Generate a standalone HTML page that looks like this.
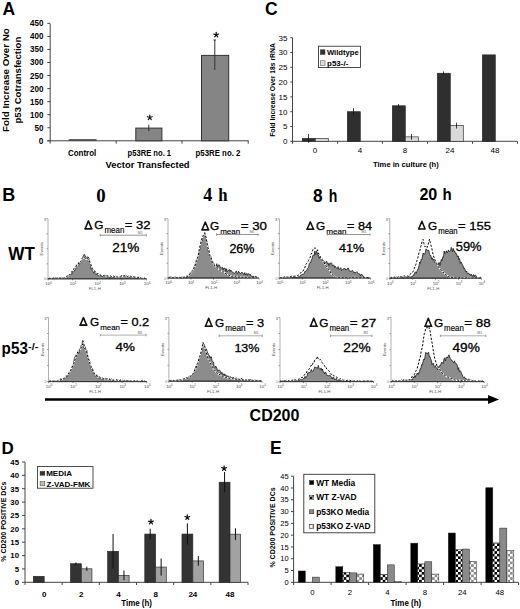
<!DOCTYPE html>
<html><head><meta charset="utf-8"><style>
html,body{margin:0;padding:0;background:#fff;overflow:hidden;width:520px;height:609px;}
svg{display:block;}
text{font-family:"Liberation Sans",sans-serif;}
</style></head><body>
<svg width="520" height="609" viewBox="0 0 520 609">
<rect width="520" height="609" fill="#fff"/>
<text x="2.5" y="14.5" font-size="17.5" font-weight="bold" text-anchor="start" fill="#000" >A</text>
<text x="265" y="15" font-size="17.5" font-weight="bold" text-anchor="start" fill="#000" >C</text>
<text x="2.3" y="200.8" font-size="18" font-weight="bold" text-anchor="start" fill="#000" >B</text>
<text x="1.5" y="453.8" font-size="17" font-weight="bold" text-anchor="start" fill="#000" >D</text>
<text x="270" y="454.1" font-size="17.5" font-weight="bold" text-anchor="start" fill="#000" >E</text>
<line x1="50.2" y1="23.8" x2="50.2" y2="143.6" stroke="#444" stroke-width="1" />
<line x1="47.3" y1="140.8" x2="248.7" y2="140.8" stroke="#444" stroke-width="1" />
<line x1="47.3" y1="140.8" x2="50.2" y2="140.8" stroke="#444" stroke-width="1" />
<text x="43.4" y="143.75" font-size="8.5" font-weight="bold" textLength="4.6" lengthAdjust="spacingAndGlyphs" text-anchor="end" fill="#000">0</text>
<line x1="47.3" y1="127.75000000000001" x2="50.2" y2="127.75000000000001" stroke="#444" stroke-width="1" />
<text x="43.4" y="130.70000000000002" font-size="8.5" font-weight="bold" textLength="9" lengthAdjust="spacingAndGlyphs" text-anchor="end" fill="#000">50</text>
<line x1="47.3" y1="114.70000000000002" x2="50.2" y2="114.70000000000002" stroke="#444" stroke-width="1" />
<text x="43.4" y="117.65000000000002" font-size="8.5" font-weight="bold" textLength="13.4" lengthAdjust="spacingAndGlyphs" text-anchor="end" fill="#000">100</text>
<line x1="47.3" y1="101.65" x2="50.2" y2="101.65" stroke="#444" stroke-width="1" />
<text x="43.4" y="104.60000000000001" font-size="8.5" font-weight="bold" textLength="13.4" lengthAdjust="spacingAndGlyphs" text-anchor="end" fill="#000">150</text>
<line x1="47.3" y1="88.60000000000001" x2="50.2" y2="88.60000000000001" stroke="#444" stroke-width="1" />
<text x="43.4" y="91.55000000000001" font-size="8.5" font-weight="bold" textLength="13.4" lengthAdjust="spacingAndGlyphs" text-anchor="end" fill="#000">200</text>
<line x1="47.3" y1="75.55000000000001" x2="50.2" y2="75.55000000000001" stroke="#444" stroke-width="1" />
<text x="43.4" y="78.50000000000001" font-size="8.5" font-weight="bold" textLength="13.4" lengthAdjust="spacingAndGlyphs" text-anchor="end" fill="#000">250</text>
<line x1="47.3" y1="62.500000000000014" x2="50.2" y2="62.500000000000014" stroke="#444" stroke-width="1" />
<text x="43.4" y="65.45000000000002" font-size="8.5" font-weight="bold" textLength="13.4" lengthAdjust="spacingAndGlyphs" text-anchor="end" fill="#000">300</text>
<line x1="47.3" y1="49.45" x2="50.2" y2="49.45" stroke="#444" stroke-width="1" />
<text x="43.4" y="52.400000000000006" font-size="8.5" font-weight="bold" textLength="13.4" lengthAdjust="spacingAndGlyphs" text-anchor="end" fill="#000">350</text>
<line x1="47.3" y1="36.400000000000006" x2="50.2" y2="36.400000000000006" stroke="#444" stroke-width="1" />
<text x="43.4" y="39.35000000000001" font-size="8.5" font-weight="bold" textLength="13.4" lengthAdjust="spacingAndGlyphs" text-anchor="end" fill="#000">400</text>
<line x1="47.3" y1="23.35000000000001" x2="50.2" y2="23.35000000000001" stroke="#444" stroke-width="1" />
<text x="43.4" y="26.300000000000008" font-size="8.5" font-weight="bold" textLength="13.4" lengthAdjust="spacingAndGlyphs" text-anchor="end" fill="#000">450</text>
<line x1="116.2" y1="140.8" x2="116.2" y2="143.7" stroke="#444" stroke-width="1" />
<line x1="182" y1="140.8" x2="182" y2="143.7" stroke="#444" stroke-width="1" />
<line x1="248.2" y1="140.8" x2="248.2" y2="143.7" stroke="#444" stroke-width="1" />
<line x1="68.7" y1="139.9" x2="96.5" y2="139.9" stroke="#222" stroke-width="1.2" />
<rect x="135.8" y="128.1" width="26.1" height="12.700000000000017" fill="#858585" stroke="#333" stroke-width="1"/>
<rect x="201.5" y="55.4" width="27.2" height="85.4" fill="#858585" stroke="#333" stroke-width="1"/>
<line x1="148.8" y1="124.6" x2="148.8" y2="131.2" stroke="#333" stroke-width="1" />
<line x1="214.8" y1="40" x2="214.8" y2="70" stroke="#333" stroke-width="1" />
<line x1="213.5" y1="40" x2="216" y2="40" stroke="#333" stroke-width="1" />
<path d="M149.80,117.50 L149.80,115.00 M149.80,117.50 L152.18,116.73 M149.80,117.50 L151.27,119.52 M149.80,117.50 L148.33,119.52 M149.80,117.50 L147.42,116.73 " stroke="#111" stroke-width="1.25" stroke-linecap="round" fill="none"/>
<path d="M216.20,34.80 L216.20,32.30 M216.20,34.80 L218.58,34.03 M216.20,34.80 L217.67,36.82 M216.20,34.80 L214.73,36.82 M216.20,34.80 L213.82,34.03 " stroke="#111" stroke-width="1.25" stroke-linecap="round" fill="none"/>
<text x="68.0" y="156.3" font-size="8.4" font-weight="bold" textLength="28.3" lengthAdjust="spacingAndGlyphs" text-anchor="start" fill="#000">Control</text>
<text x="127.6" y="156.0" font-size="8.2" font-weight="bold" textLength="43.5" lengthAdjust="spacingAndGlyphs" text-anchor="start" fill="#000">p53RE no. 1</text>
<text x="195.6" y="156.0" font-size="8.2" font-weight="bold" textLength="44.8" lengthAdjust="spacingAndGlyphs" text-anchor="start" fill="#000">p53RE no. 2</text>
<text x="105.6" y="168.1" font-size="8.8" font-weight="bold" textLength="84.0" lengthAdjust="spacingAndGlyphs" text-anchor="start" fill="#000">Vector Transfected</text>
<text transform="translate(9.3,80.1) rotate(-90)" font-size="9.8" font-weight="bold" textLength="103.6" lengthAdjust="spacingAndGlyphs" text-anchor="middle" fill="#000">Fold Increase Over No</text>
<text transform="translate(20.8,80.1) rotate(-90)" font-size="9.7" font-weight="bold" textLength="86.8" lengthAdjust="spacingAndGlyphs" text-anchor="middle" fill="#000">p53 Cotransfection</text>
<line x1="292.5" y1="37.7" x2="292.5" y2="143.8" stroke="#444" stroke-width="1" />
<line x1="292.5" y1="141.3" x2="517" y2="141.3" stroke="#444" stroke-width="1" />
<line x1="290.3" y1="141.3" x2="292.5" y2="141.3" stroke="#444" stroke-width="1" />
<text x="287.5" y="144.20000000000002" font-size="8" text-anchor="end" fill="#000" >0</text>
<line x1="290.3" y1="126.50000000000001" x2="292.5" y2="126.50000000000001" stroke="#444" stroke-width="1" />
<text x="287.5" y="129.4" font-size="8" text-anchor="end" fill="#000" >5</text>
<line x1="290.3" y1="111.7" x2="292.5" y2="111.7" stroke="#444" stroke-width="1" />
<text x="287.5" y="114.60000000000001" font-size="8" text-anchor="end" fill="#000" >10</text>
<line x1="290.3" y1="96.9" x2="292.5" y2="96.9" stroke="#444" stroke-width="1" />
<text x="287.5" y="99.80000000000001" font-size="8" text-anchor="end" fill="#000" >15</text>
<line x1="290.3" y1="82.1" x2="292.5" y2="82.1" stroke="#444" stroke-width="1" />
<text x="287.5" y="85.0" font-size="8" text-anchor="end" fill="#000" >20</text>
<line x1="290.3" y1="67.3" x2="292.5" y2="67.3" stroke="#444" stroke-width="1" />
<text x="287.5" y="70.2" font-size="8" text-anchor="end" fill="#000" >25</text>
<line x1="290.3" y1="52.5" x2="292.5" y2="52.5" stroke="#444" stroke-width="1" />
<text x="287.5" y="55.4" font-size="8" text-anchor="end" fill="#000" >30</text>
<line x1="290.3" y1="37.7" x2="292.5" y2="37.7" stroke="#444" stroke-width="1" />
<text x="287.5" y="40.6" font-size="8" text-anchor="end" fill="#000" >35</text>
<line x1="337.5" y1="141.3" x2="337.5" y2="143.8" stroke="#444" stroke-width="1" />
<line x1="382.5" y1="141.3" x2="382.5" y2="143.8" stroke="#444" stroke-width="1" />
<line x1="427.5" y1="141.3" x2="427.5" y2="143.8" stroke="#444" stroke-width="1" />
<line x1="472.5" y1="141.3" x2="472.5" y2="143.8" stroke="#444" stroke-width="1" />
<line x1="517.5" y1="141.3" x2="517.5" y2="143.8" stroke="#444" stroke-width="1" />
<rect x="302.3" y="138.34" width="13" height="2.9600000000000004" fill="#2f2f2f" stroke="#222" stroke-width="0.6"/>
<line x1="308.5" y1="133.9" x2="308.5" y2="142.78" stroke="#111" stroke-width="0.8" />
<rect x="315.3" y="138.34" width="13" height="2.9600000000000004" fill="#d8d8d8" stroke="#333" stroke-width="0.7"/>
<text x="315.0" y="152.8" font-size="8" text-anchor="middle" fill="#000" >0</text>
<rect x="347.3" y="111.7" width="13" height="29.600000000000005" fill="#2f2f2f" stroke="#222" stroke-width="0.6"/>
<line x1="353.5" y1="108.14800000000001" x2="353.5" y2="115.25200000000001" stroke="#111" stroke-width="0.8" />
<text x="360.0" y="152.8" font-size="8" text-anchor="middle" fill="#000" >4</text>
<rect x="392.3" y="105.78" width="13" height="35.52" fill="#2f2f2f" stroke="#222" stroke-width="0.6"/>
<line x1="398.5" y1="104.004" x2="398.5" y2="107.55600000000001" stroke="#111" stroke-width="0.8" />
<rect x="405.3" y="136.86" width="13" height="4.44" fill="#d8d8d8" stroke="#333" stroke-width="0.7"/>
<line x1="411.5" y1="133.9" x2="411.5" y2="139.82000000000002" stroke="#111" stroke-width="0.8" />
<text x="405.0" y="152.8" font-size="8" text-anchor="middle" fill="#000" >8</text>
<rect x="437.3" y="73.22" width="13" height="68.08000000000001" fill="#2f2f2f" stroke="#222" stroke-width="0.6"/>
<line x1="443.5" y1="71.444" x2="443.5" y2="74.99600000000001" stroke="#111" stroke-width="0.8" />
<rect x="450.3" y="125.61200000000001" width="13" height="15.688000000000002" fill="#d8d8d8" stroke="#333" stroke-width="0.7"/>
<line x1="456.5" y1="122.65200000000002" x2="456.5" y2="128.572" stroke="#111" stroke-width="0.8" />
<text x="450.0" y="152.8" font-size="8" text-anchor="middle" fill="#000" >24</text>
<rect x="482.3" y="54.867999999999995" width="13" height="86.43200000000002" fill="#2f2f2f" stroke="#222" stroke-width="0.6"/>
<text x="495.0" y="152.8" font-size="8" text-anchor="middle" fill="#000" >48</text>
<text x="373.0" y="166.9" font-size="7.6" font-weight="bold" textLength="65.8" lengthAdjust="spacingAndGlyphs" text-anchor="start" fill="#000">Time in culture (h)</text>
<text transform="translate(274.8,90) rotate(-90)" font-size="6.8" font-weight="bold" text-anchor="middle" fill="#000" >Fold Increase Over 18s rRNA</text>
<rect x="318.5" y="46.2" width="42" height="21.3" fill="#fff" stroke="#222" stroke-width="0.8"/>
<rect x="320.4" y="49.8" width="4.6" height="4.6" fill="#333" stroke="#222" stroke-width="0.5"/>
<rect x="320.4" y="60.8" width="4.6" height="4.6" fill="#ddd" stroke="#444" stroke-width="0.5"/>
<text x="326.9" y="54.5" font-size="8" font-weight="bold" textLength="31.8" lengthAdjust="spacingAndGlyphs" text-anchor="start" fill="#000">Wildtype</text>
<text x="327.1" y="65.5" font-size="8" font-weight="bold" textLength="21.2" lengthAdjust="spacingAndGlyphs" text-anchor="start" fill="#000">p53-/-</text>
<line x1="25" y1="462" x2="25" y2="585" stroke="#444" stroke-width="1" />
<line x1="25" y1="582.3" x2="248" y2="582.3" stroke="#444" stroke-width="1" />
<line x1="22" y1="582.3" x2="25" y2="582.3" stroke="#444" stroke-width="1" />
<text x="19" y="585.0999999999999" font-size="7.8" font-weight="bold" text-anchor="end" fill="#000" >0</text>
<line x1="22" y1="568.9333333333333" x2="25" y2="568.9333333333333" stroke="#444" stroke-width="1" />
<text x="19" y="571.7333333333332" font-size="7.8" font-weight="bold" text-anchor="end" fill="#000" >5</text>
<line x1="22" y1="555.5666666666666" x2="25" y2="555.5666666666666" stroke="#444" stroke-width="1" />
<text x="19" y="558.3666666666666" font-size="7.8" font-weight="bold" text-anchor="end" fill="#000" >10</text>
<line x1="22" y1="542.1999999999999" x2="25" y2="542.1999999999999" stroke="#444" stroke-width="1" />
<text x="19" y="544.9999999999999" font-size="7.8" font-weight="bold" text-anchor="end" fill="#000" >15</text>
<line x1="22" y1="528.8333333333333" x2="25" y2="528.8333333333333" stroke="#444" stroke-width="1" />
<text x="19" y="531.6333333333332" font-size="7.8" font-weight="bold" text-anchor="end" fill="#000" >20</text>
<line x1="22" y1="515.4666666666667" x2="25" y2="515.4666666666667" stroke="#444" stroke-width="1" />
<text x="19" y="518.2666666666667" font-size="7.8" font-weight="bold" text-anchor="end" fill="#000" >25</text>
<line x1="22" y1="502.09999999999997" x2="25" y2="502.09999999999997" stroke="#444" stroke-width="1" />
<text x="19" y="504.9" font-size="7.8" font-weight="bold" text-anchor="end" fill="#000" >30</text>
<line x1="22" y1="488.73333333333335" x2="25" y2="488.73333333333335" stroke="#444" stroke-width="1" />
<text x="19" y="491.53333333333336" font-size="7.8" font-weight="bold" text-anchor="end" fill="#000" >35</text>
<line x1="22" y1="475.3666666666667" x2="25" y2="475.3666666666667" stroke="#444" stroke-width="1" />
<text x="19" y="478.1666666666667" font-size="7.8" font-weight="bold" text-anchor="end" fill="#000" >40</text>
<line x1="22" y1="462.0" x2="25" y2="462.0" stroke="#444" stroke-width="1" />
<text x="19" y="464.8" font-size="7.8" font-weight="bold" text-anchor="end" fill="#000" >45</text>
<line x1="62.166666666666664" y1="582.3" x2="62.166666666666664" y2="585" stroke="#444" stroke-width="1" />
<line x1="99.33333333333333" y1="582.3" x2="99.33333333333333" y2="585" stroke="#444" stroke-width="1" />
<line x1="136.5" y1="582.3" x2="136.5" y2="585" stroke="#444" stroke-width="1" />
<line x1="173.66666666666666" y1="582.3" x2="173.66666666666666" y2="585" stroke="#444" stroke-width="1" />
<line x1="210.83333333333331" y1="582.3" x2="210.83333333333331" y2="585" stroke="#444" stroke-width="1" />
<line x1="248.0" y1="582.3" x2="248.0" y2="585" stroke="#444" stroke-width="1" />
<rect x="33.28333333333333" y="576.285" width="10.9" height="6.014999999999998" fill="#333" stroke="#222" stroke-width="0.6"/>
<text x="44.18333333333333" y="597" font-size="8" font-weight="bold" text-anchor="middle" fill="#000" >0</text>
<rect x="70.44999999999999" y="563.7203333333333" width="10.9" height="18.57966666666666" fill="#333" stroke="#222" stroke-width="0.6"/>
<line x1="75.89999999999999" y1="562.3836666666666" x2="75.89999999999999" y2="565.057" stroke="#111" stroke-width="1.0" />
<rect x="81.35" y="568.7996666666667" width="10.6" height="13.500333333333328" fill="#a2a2a2" stroke="#333" stroke-width="0.7"/>
<line x1="86.8" y1="566.661" x2="86.8" y2="570.9383333333333" stroke="#111" stroke-width="1.0" />
<text x="81.35" y="597" font-size="8" font-weight="bold" text-anchor="middle" fill="#000" >2</text>
<rect x="107.61666666666665" y="551.2893333333333" width="10.9" height="31.010666666666655" fill="#333" stroke="#222" stroke-width="0.6"/>
<line x1="113.06666666666665" y1="533.9126666666666" x2="113.06666666666665" y2="568.6659999999999" stroke="#111" stroke-width="1.0" />
<rect x="118.51666666666665" y="575.3493333333333" width="10.6" height="6.950666666666665" fill="#a2a2a2" stroke="#333" stroke-width="0.7"/>
<line x1="123.96666666666665" y1="570.5373333333333" x2="123.96666666666665" y2="580.1613333333332" stroke="#111" stroke-width="1.0" />
<text x="118.51666666666665" y="597" font-size="8" font-weight="bold" text-anchor="middle" fill="#000" >4</text>
<rect x="144.78333333333333" y="534.0463333333333" width="10.9" height="48.25366666666665" fill="#333" stroke="#222" stroke-width="0.6"/>
<line x1="150.23333333333335" y1="528.6996666666666" x2="150.23333333333335" y2="539.3929999999999" stroke="#111" stroke-width="1.0" />
<rect x="155.68333333333334" y="567.062" width="10.6" height="15.237999999999996" fill="#a2a2a2" stroke="#333" stroke-width="0.7"/>
<line x1="161.13333333333333" y1="558.5073333333333" x2="161.13333333333333" y2="575.6166666666667" stroke="#111" stroke-width="1.0" />
<text x="155.68333333333334" y="597" font-size="8" font-weight="bold" text-anchor="middle" fill="#000" >8</text>
<rect x="181.95" y="534.0463333333333" width="10.9" height="48.25366666666665" fill="#333" stroke="#222" stroke-width="0.6"/>
<line x1="187.4" y1="523.353" x2="187.4" y2="544.7396666666666" stroke="#111" stroke-width="1.0" />
<rect x="192.85" y="560.9133333333333" width="10.6" height="21.38666666666666" fill="#a2a2a2" stroke="#333" stroke-width="0.7"/>
<line x1="198.29999999999998" y1="556.1013333333333" x2="198.29999999999998" y2="565.7253333333333" stroke="#111" stroke-width="1.0" />
<text x="192.85" y="597" font-size="8" font-weight="bold" text-anchor="middle" fill="#000" >24</text>
<rect x="219.11666666666665" y="482.1836666666667" width="10.9" height="100.1163333333333" fill="#333" stroke="#222" stroke-width="0.6"/>
<line x1="224.56666666666666" y1="472.025" x2="224.56666666666666" y2="492.3423333333333" stroke="#111" stroke-width="1.0" />
<rect x="230.01666666666665" y="534.18" width="10.6" height="48.11999999999998" fill="#a2a2a2" stroke="#333" stroke-width="0.7"/>
<line x1="235.46666666666664" y1="528.2986666666667" x2="235.46666666666664" y2="540.0613333333333" stroke="#111" stroke-width="1.0" />
<text x="230.01666666666665" y="597" font-size="8" font-weight="bold" text-anchor="middle" fill="#000" >48</text>
<path d="M151.00,521.90 L151.00,519.40 M151.00,521.90 L153.38,521.13 M151.00,521.90 L152.47,523.92 M151.00,521.90 L149.53,523.92 M151.00,521.90 L148.62,521.13 " stroke="#111" stroke-width="1.25" stroke-linecap="round" fill="none"/>
<path d="M187.30,517.30 L187.30,514.80 M187.30,517.30 L189.68,516.53 M187.30,517.30 L188.77,519.32 M187.30,517.30 L185.83,519.32 M187.30,517.30 L184.92,516.53 " stroke="#111" stroke-width="1.25" stroke-linecap="round" fill="none"/>
<path d="M224.10,468.40 L224.10,465.90 M224.10,468.40 L226.48,467.63 M224.10,468.40 L225.57,470.42 M224.10,468.40 L222.63,470.42 M224.10,468.40 L221.72,467.63 " stroke="#111" stroke-width="1.25" stroke-linecap="round" fill="none"/>
<text x="121.3" y="606.2" font-size="8.6" font-weight="bold" textLength="30.6" lengthAdjust="spacingAndGlyphs" text-anchor="start" fill="#000">Time (h)</text>
<text transform="translate(5.8,521.7) rotate(-90)" font-size="7" font-weight="bold" text-anchor="middle" fill="#000" >% CD200 POSITIVE DCs</text>
<rect x="37.5" y="466.6" width="55.5" height="21.6" fill="#fff" stroke="#222" stroke-width="0.8"/>
<rect x="40.1" y="471.4" width="4.7" height="3.8" fill="#333" stroke="#222" stroke-width="0.5"/>
<rect x="40.1" y="481.6" width="4.7" height="4.2" fill="#bbb" stroke="#444" stroke-width="0.5"/>
<text x="46.2" y="476.4" font-size="8" font-weight="bold" text-anchor="start" fill="#000" >MEDIA</text>
<text x="46.5" y="486.7" font-size="8" font-weight="bold" text-anchor="start" fill="#000" >Z-VAD-FMK</text>
<defs><pattern id="chk" x="0.5" y="0" width="5.2" height="5.2" patternUnits="userSpaceOnUse"><rect width="5.2" height="5.2" fill="#fff"/><rect width="2.6" height="2.6" fill="#000"/><rect x="2.6" y="2.6" width="2.6" height="2.6" fill="#000"/></pattern><pattern id="chk2" x="0.5" y="0" width="5.2" height="5.2" patternUnits="userSpaceOnUse"><rect width="5.2" height="5.2" fill="#fff"/><rect width="2.6" height="2.6" fill="#8a8a8a"/><rect x="2.6" y="2.6" width="2.6" height="2.6" fill="#8a8a8a"/></pattern></defs>
<line x1="293.6" y1="476.2" x2="293.6" y2="585" stroke="#444" stroke-width="1" />
<line x1="293.6" y1="582.3" x2="518.5" y2="582.3" stroke="#444" stroke-width="1" />
<line x1="291" y1="582.3" x2="293.6" y2="582.3" stroke="#444" stroke-width="1" />
<text x="288.7" y="584.9" font-size="7.5" text-anchor="end" fill="#000" >0</text>
<line x1="291" y1="570.5111111111111" x2="293.6" y2="570.5111111111111" stroke="#444" stroke-width="1" />
<text x="288.7" y="573.1111111111111" font-size="7.5" text-anchor="end" fill="#000" >5</text>
<line x1="291" y1="558.7222222222222" x2="293.6" y2="558.7222222222222" stroke="#444" stroke-width="1" />
<text x="288.7" y="561.3222222222222" font-size="7.5" text-anchor="end" fill="#000" >10</text>
<line x1="291" y1="546.9333333333333" x2="293.6" y2="546.9333333333333" stroke="#444" stroke-width="1" />
<text x="288.7" y="549.5333333333333" font-size="7.5" text-anchor="end" fill="#000" >15</text>
<line x1="291" y1="535.1444444444444" x2="293.6" y2="535.1444444444444" stroke="#444" stroke-width="1" />
<text x="288.7" y="537.7444444444444" font-size="7.5" text-anchor="end" fill="#000" >20</text>
<line x1="291" y1="523.3555555555555" x2="293.6" y2="523.3555555555555" stroke="#444" stroke-width="1" />
<text x="288.7" y="525.9555555555555" font-size="7.5" text-anchor="end" fill="#000" >25</text>
<line x1="291" y1="511.56666666666666" x2="293.6" y2="511.56666666666666" stroke="#444" stroke-width="1" />
<text x="288.7" y="514.1666666666666" font-size="7.5" text-anchor="end" fill="#000" >30</text>
<line x1="291" y1="499.77777777777777" x2="293.6" y2="499.77777777777777" stroke="#444" stroke-width="1" />
<text x="288.7" y="502.3777777777778" font-size="7.5" text-anchor="end" fill="#000" >35</text>
<line x1="291" y1="487.9888888888889" x2="293.6" y2="487.9888888888889" stroke="#444" stroke-width="1" />
<text x="288.7" y="490.5888888888889" font-size="7.5" text-anchor="end" fill="#000" >40</text>
<line x1="291" y1="476.2" x2="293.6" y2="476.2" stroke="#444" stroke-width="1" />
<text x="288.7" y="478.8" font-size="7.5" text-anchor="end" fill="#000" >45</text>
<line x1="331.1" y1="582.3" x2="331.1" y2="585" stroke="#444" stroke-width="1" />
<line x1="368.6" y1="582.3" x2="368.6" y2="585" stroke="#444" stroke-width="1" />
<line x1="406.1" y1="582.3" x2="406.1" y2="585" stroke="#444" stroke-width="1" />
<line x1="443.6" y1="582.3" x2="443.6" y2="585" stroke="#444" stroke-width="1" />
<line x1="481.1" y1="582.3" x2="481.1" y2="585" stroke="#444" stroke-width="1" />
<line x1="518.6" y1="582.3" x2="518.6" y2="585" stroke="#444" stroke-width="1" />
<rect x="298.3" y="570.9826666666667" width="7" height="11.317333333333329" fill="#000" stroke="#222" stroke-width="0.5"/>
<rect x="312.3" y="577.1128888888888" width="7" height="5.1871111111111095" fill="#8a8a8a" stroke="#222" stroke-width="0.5"/>
<text x="312.35" y="595" font-size="7.8" text-anchor="middle" fill="#000" >0</text>
<rect x="335.8" y="566.7386666666666" width="7" height="15.561333333333327" fill="#000" stroke="#222" stroke-width="0.5"/>
<rect x="342.8" y="572.3973333333333" width="7" height="9.902666666666663" fill="url(#chk)" stroke="#222" stroke-width="0.5"/>
<rect x="349.8" y="572.8688888888888" width="7" height="9.431111111111107" fill="#8a8a8a" stroke="#222" stroke-width="0.5"/>
<rect x="356.8" y="574.0477777777777" width="7" height="8.252222222222219" fill="url(#chk2)" stroke="#222" stroke-width="0.5"/>
<text x="349.85" y="595" font-size="7.8" text-anchor="middle" fill="#000" >2</text>
<rect x="373.3" y="544.5755555555555" width="7" height="37.72444444444443" fill="#000" stroke="#222" stroke-width="0.5"/>
<rect x="380.3" y="574.2835555555555" width="7" height="8.01644444444444" fill="url(#chk)" stroke="#222" stroke-width="0.5"/>
<rect x="387.3" y="564.8524444444444" width="7" height="17.44755555555555" fill="#8a8a8a" stroke="#222" stroke-width="0.5"/>
<rect x="394.3" y="581.5926666666667" width="7" height="0.707333333333333" fill="url(#chk2)" stroke="#222" stroke-width="0.5"/>
<text x="387.35" y="595" font-size="7.8" text-anchor="middle" fill="#000" >4</text>
<rect x="410.8" y="543.1608888888888" width="7" height="39.1391111111111" fill="#000" stroke="#222" stroke-width="0.5"/>
<rect x="417.8" y="563.9093333333333" width="7" height="18.390666666666657" fill="url(#chk)" stroke="#222" stroke-width="0.5"/>
<rect x="424.8" y="561.7873333333333" width="7" height="20.512666666666657" fill="#8a8a8a" stroke="#222" stroke-width="0.5"/>
<rect x="431.8" y="574.0477777777777" width="7" height="8.252222222222219" fill="url(#chk2)" stroke="#222" stroke-width="0.5"/>
<text x="424.85" y="595" font-size="7.8" text-anchor="middle" fill="#000" >8</text>
<rect x="448.3" y="533.0224444444444" width="7" height="49.27755555555553" fill="#000" stroke="#222" stroke-width="0.5"/>
<rect x="455.3" y="549.7626666666666" width="7" height="32.53733333333332" fill="url(#chk)" stroke="#222" stroke-width="0.5"/>
<rect x="462.3" y="549.0553333333334" width="7" height="33.24466666666665" fill="#8a8a8a" stroke="#222" stroke-width="0.5"/>
<rect x="469.3" y="561.3157777777777" width="7" height="20.984222222222215" fill="url(#chk2)" stroke="#222" stroke-width="0.5"/>
<text x="462.35" y="595" font-size="7.8" text-anchor="middle" fill="#000" >24</text>
<rect x="485.8" y="487.7531111111111" width="7" height="94.54688888888886" fill="#000" stroke="#222" stroke-width="0.5"/>
<rect x="492.8" y="542.925111111111" width="7" height="39.37488888888887" fill="url(#chk)" stroke="#222" stroke-width="0.5"/>
<rect x="499.8" y="528.0711111111111" width="7" height="54.22888888888887" fill="#8a8a8a" stroke="#222" stroke-width="0.5"/>
<rect x="506.8" y="550.7057777777777" width="7" height="31.59422222222221" fill="url(#chk2)" stroke="#222" stroke-width="0.5"/>
<text x="499.85" y="595" font-size="7.8" text-anchor="middle" fill="#000" >48</text>
<text x="390.4" y="606.3" font-size="8.6" font-weight="bold" textLength="30.8" lengthAdjust="spacingAndGlyphs" text-anchor="start" fill="#000">Time (h)</text>
<text transform="translate(275,527.5) rotate(-90)" font-size="7" font-weight="bold" text-anchor="middle" fill="#000" >% CD200 POSITIVE DCs</text>
<rect x="303.8" y="474.3" width="71" height="58.5" fill="#fff" stroke="#333" stroke-width="0.9"/>
<rect x="309.6" y="480.6" width="4.2" height="4" fill="#000" stroke="#222" stroke-width="0.5"/>
<text x="316.2" y="485.6" font-size="8.4" font-weight="bold" text-anchor="start" fill="#000" >WT Media</text>
<rect x="309.6" y="495.20000000000005" width="4.2" height="4" fill="url(#chk)" stroke="#222" stroke-width="0.5"/>
<text x="316.2" y="500.20000000000005" font-size="8.4" font-weight="bold" text-anchor="start" fill="#000" >WT Z-VAD</text>
<rect x="309.6" y="509.8" width="4.2" height="4" fill="#8a8a8a" stroke="#222" stroke-width="0.5"/>
<text x="316.2" y="514.8" font-size="8.4" font-weight="bold" text-anchor="start" fill="#000" >p53KO Media</text>
<rect x="309.6" y="524.4" width="4.2" height="4" fill="url(#chk2)" stroke="#222" stroke-width="0.5"/>
<text x="316.2" y="529.4" font-size="8.4" font-weight="bold" text-anchor="start" fill="#000" >p53KO Z-VAD</text>
<line x1="48" y1="218.8" x2="48" y2="278.8" stroke="#a8a8a8" stroke-width="0.9"/>
<line x1="46.5" y1="278.8" x2="48" y2="278.8" stroke="#777" stroke-width="0.7"/>
<line x1="46.5" y1="263.8" x2="48" y2="263.8" stroke="#777" stroke-width="0.7"/>
<line x1="46.5" y1="248.8" x2="48" y2="248.8" stroke="#777" stroke-width="0.7"/>
<line x1="46.5" y1="233.8" x2="48" y2="233.8" stroke="#777" stroke-width="0.7"/>
<line x1="46.5" y1="218.8" x2="48" y2="218.8" stroke="#777" stroke-width="0.7"/>
<line x1="48.0" y1="278.8" x2="48.0" y2="280.3" stroke="#555" stroke-width="0.7"/>
<text x="48.5" y="285.1" font-size="4.4" fill="#444" text-anchor="middle">10<tspan font-size="2.8" dy="-1.6">0</tspan></text>
<line x1="72.6" y1="278.8" x2="72.6" y2="280.3" stroke="#555" stroke-width="0.7"/>
<text x="73.1" y="285.1" font-size="4.4" fill="#444" text-anchor="middle">10<tspan font-size="2.8" dy="-1.6">1</tspan></text>
<line x1="97.2" y1="278.8" x2="97.2" y2="280.3" stroke="#555" stroke-width="0.7"/>
<text x="97.8" y="285.1" font-size="4.4" fill="#444" text-anchor="middle">10<tspan font-size="2.8" dy="-1.6">2</tspan></text>
<line x1="121.9" y1="278.8" x2="121.9" y2="280.3" stroke="#555" stroke-width="0.7"/>
<text x="122.4" y="285.1" font-size="4.4" fill="#444" text-anchor="middle">10<tspan font-size="2.8" dy="-1.6">3</tspan></text>
<line x1="146.5" y1="278.8" x2="146.5" y2="280.3" stroke="#555" stroke-width="0.7"/>
<text x="147.0" y="285.1" font-size="4.4" fill="#444" text-anchor="middle">10<tspan font-size="2.8" dy="-1.6">4</tspan></text>
<text x="94.8" y="290.1" font-size="4.3" fill="#555" text-anchor="middle">FL1-H</text>
<text transform="translate(43,248.8) rotate(-90)" font-size="4.4" fill="#555" text-anchor="middle">Events</text>
<text x="46" y="220.8" font-size="4.2" fill="#555" text-anchor="end">3</text>
<text x="46" y="280.3" font-size="3.5" fill="#777" text-anchor="end">0</text>
<path d="M48.5,278.8 L48.5,278.8 L49.2,278.4 L49.9,278.7 L50.6,278.3 L51.3,278.2 L52.0,278.8 L52.7,278.8 L53.4,277.8 L54.1,278.7 L54.8,278.8 L55.5,277.4 L56.2,278.3 L56.9,277.7 L57.6,278.3 L58.3,278.0 L59.0,278.8 L59.7,277.9 L60.4,277.5 L61.1,278.1 L61.8,277.7 L62.5,277.8 L63.2,278.8 L63.9,277.6 L64.6,277.8 L65.3,278.2 L66.0,278.4 L66.7,276.2 L67.4,276.7 L68.1,275.7 L68.8,274.9 L69.5,274.9 L70.2,273.9 L70.9,274.9 L71.6,273.4 L72.3,273.6 L73.0,270.9 L73.7,269.8 L74.4,271.2 L75.1,269.8 L75.8,268.4 L76.5,264.8 L77.2,266.0 L77.9,264.6 L78.6,265.2 L79.3,263.7 L80.0,263.5 L80.7,262.5 L81.4,260.3 L82.1,259.1 L82.8,256.5 L83.5,256.2 L84.2,254.3 L84.9,255.7 L85.6,256.2 L86.3,258.0 L87.0,259.8 L87.7,256.7 L88.4,257.2 L89.1,258.7 L89.8,262.9 L90.5,265.2 L91.2,269.3 L91.9,268.1 L92.6,269.9 L93.3,271.8 L94.0,273.3 L94.7,271.5 L95.4,271.6 L96.1,274.7 L96.8,273.3 L97.5,274.9 L98.2,275.9 L98.9,275.7 L99.6,274.6 L100.3,274.4 L101.0,276.6 L101.7,275.3 L102.4,276.9 L103.1,275.3 L103.8,276.4 L104.5,275.2 L105.2,275.0 L105.9,276.2 L106.6,275.2 L107.3,276.9 L108.0,277.5 L108.7,276.4 L109.4,277.7 L110.1,277.4 L110.8,277.1 L111.5,276.7 L112.2,277.8 L112.9,278.0 L113.6,276.3 L114.3,277.5 L115.0,276.1 L115.7,276.3 L116.4,277.4 L117.1,277.3 L117.8,277.2 L118.5,276.9 L119.2,277.1 L119.9,277.2 L120.6,276.6 L121.3,275.4 L122.0,276.0 L122.7,276.2 L123.4,275.5 L124.1,276.6 L124.8,276.5 L125.5,274.9 L126.2,275.9 L126.9,275.9 L127.6,277.2 L128.3,276.3 L129.0,276.0 L129.7,277.5 L130.4,276.2 L131.1,276.4 L131.8,277.8 L132.5,276.7 L133.2,277.2 L133.9,276.9 L134.6,277.7 L135.3,277.1 L136.0,277.1 L136.7,278.6 L137.4,278.6 L138.1,277.4 L138.8,277.0 L139.5,278.4 L140.2,278.0 L140.9,277.9 L141.6,278.4 L142.3,278.4 L143.0,278.5 L143.7,278.5 L144.4,278.1 L145.1,278.6 L145.8,278.5 L145.8,278.8 Z" fill="#8c8c8c" stroke="#111" stroke-width="0.75" stroke-linejoin="round"/>
<path d="M48.5,278.4 L49.3,278.2 L50.1,278.5 L50.9,278.3 L51.7,278.1 L52.5,278.4 L53.3,278.2 L54.1,278.2 L54.9,278.0 L55.7,278.7 L56.5,278.5 L57.3,277.8 L58.1,278.0 L58.9,278.4 L59.7,278.0 L60.5,278.4 L61.3,278.2 L62.1,278.1 L62.9,278.3 L63.7,278.3 L64.5,278.0 L65.3,277.6 L66.1,277.3 L66.9,276.3 L67.7,275.3 L68.5,275.7 L69.3,274.8 L70.1,274.4 L70.9,272.6 L71.7,272.0 L72.5,271.0 L73.3,270.3 L74.1,268.4 L74.9,267.4 L75.7,267.0 L76.5,265.3 L77.3,265.4 L78.1,264.2 L78.9,262.0 L79.7,262.4 L80.5,261.6 L81.3,260.8 L82.1,258.5 L82.9,257.4 L83.7,258.2 L84.5,257.5 L85.3,258.5 L86.1,259.3 L86.9,259.1 L87.7,258.4 L88.5,259.7 L89.3,259.8 L90.1,262.9 L90.9,264.6 L91.7,266.9 L92.5,268.4 L93.3,269.8 L94.1,270.8 L94.9,271.2 L95.7,272.9 L96.5,273.3 L97.3,273.6 L98.1,273.5 L98.9,274.4 L99.7,275.0 L100.5,275.6 L101.3,275.6 L102.1,275.1 L102.9,275.7 L103.7,275.5 L104.5,275.9 L105.3,275.9 L106.1,276.1 L106.9,275.4 L107.7,275.8 L108.5,276.1 L109.3,276.4 L110.1,275.8 L110.9,276.2 L111.7,276.7 L112.5,276.7 L113.3,276.0 L114.1,276.7 L114.9,276.7 L115.7,277.1 L116.5,276.3 L117.3,277.0 L118.1,276.8 L118.9,276.7 L119.7,276.9 L120.5,277.0 L121.3,276.9 L122.1,276.3 L122.9,276.5 L123.7,275.9 L124.5,275.5 L125.3,275.6 L126.1,276.0 L126.9,276.1 L127.7,276.7 L128.5,276.0 L129.3,276.0 L130.1,276.7 L130.9,277.1 L131.7,276.7 L132.5,276.9 L133.3,276.6 L134.1,276.8 L134.9,277.2 L135.7,277.2 L136.5,277.4 L137.3,277.3 L138.1,277.4 L138.9,277.5 L139.7,278.0 L140.5,277.6 L141.3,278.3 L142.1,278.3 L142.9,278.1 L143.7,278.6 L144.5,278.2 L145.3,278.4" fill="none" stroke="#fff" stroke-width="1.2"/>
<path d="M48.5,278.4 L49.3,278.2 L50.1,278.5 L50.9,278.3 L51.7,278.1 L52.5,278.4 L53.3,278.2 L54.1,278.2 L54.9,278.0 L55.7,278.7 L56.5,278.5 L57.3,277.8 L58.1,278.0 L58.9,278.4 L59.7,278.0 L60.5,278.4 L61.3,278.2 L62.1,278.1 L62.9,278.3 L63.7,278.3 L64.5,278.0 L65.3,277.6 L66.1,277.3 L66.9,276.3 L67.7,275.3 L68.5,275.7 L69.3,274.8 L70.1,274.4 L70.9,272.6 L71.7,272.0 L72.5,271.0 L73.3,270.3 L74.1,268.4 L74.9,267.4 L75.7,267.0 L76.5,265.3 L77.3,265.4 L78.1,264.2 L78.9,262.0 L79.7,262.4 L80.5,261.6 L81.3,260.8 L82.1,258.5 L82.9,257.4 L83.7,258.2 L84.5,257.5 L85.3,258.5 L86.1,259.3 L86.9,259.1 L87.7,258.4 L88.5,259.7 L89.3,259.8 L90.1,262.9 L90.9,264.6 L91.7,266.9 L92.5,268.4 L93.3,269.8 L94.1,270.8 L94.9,271.2 L95.7,272.9 L96.5,273.3 L97.3,273.6 L98.1,273.5 L98.9,274.4 L99.7,275.0 L100.5,275.6 L101.3,275.6 L102.1,275.1 L102.9,275.7 L103.7,275.5 L104.5,275.9 L105.3,275.9 L106.1,276.1 L106.9,275.4 L107.7,275.8 L108.5,276.1 L109.3,276.4 L110.1,275.8 L110.9,276.2 L111.7,276.7 L112.5,276.7 L113.3,276.0 L114.1,276.7 L114.9,276.7 L115.7,277.1 L116.5,276.3 L117.3,277.0 L118.1,276.8 L118.9,276.7 L119.7,276.9 L120.5,277.0 L121.3,276.9 L122.1,276.3 L122.9,276.5 L123.7,275.9 L124.5,275.5 L125.3,275.6 L126.1,276.0 L126.9,276.1 L127.7,276.7 L128.5,276.0 L129.3,276.0 L130.1,276.7 L130.9,277.1 L131.7,276.7 L132.5,276.9 L133.3,276.6 L134.1,276.8 L134.9,277.2 L135.7,277.2 L136.5,277.4 L137.3,277.3 L138.1,277.4 L138.9,277.5 L139.7,278.0 L140.5,277.6 L141.3,278.3 L142.1,278.3 L142.9,278.1 L143.7,278.6 L144.5,278.2 L145.3,278.4" fill="none" stroke="#000" stroke-width="1.0" stroke-dasharray="2.2,1.6"/>
<line x1="48" y1="278.8" x2="146.5" y2="278.8" stroke="#333" stroke-width="0.9"/>
<line x1="168" y1="218.8" x2="168" y2="278" stroke="#a8a8a8" stroke-width="0.9"/>
<line x1="166.5" y1="278.0" x2="168" y2="278.0" stroke="#777" stroke-width="0.7"/>
<line x1="166.5" y1="263.2" x2="168" y2="263.2" stroke="#777" stroke-width="0.7"/>
<line x1="166.5" y1="248.4" x2="168" y2="248.4" stroke="#777" stroke-width="0.7"/>
<line x1="166.5" y1="233.6" x2="168" y2="233.6" stroke="#777" stroke-width="0.7"/>
<line x1="166.5" y1="218.8" x2="168" y2="218.8" stroke="#777" stroke-width="0.7"/>
<line x1="168.0" y1="278" x2="168.0" y2="279.5" stroke="#555" stroke-width="0.7"/>
<text x="168.5" y="284.3" font-size="4.4" fill="#444" text-anchor="middle">10<tspan font-size="2.8" dy="-1.6">0</tspan></text>
<line x1="190.8" y1="278" x2="190.8" y2="279.5" stroke="#555" stroke-width="0.7"/>
<text x="191.2" y="284.3" font-size="4.4" fill="#444" text-anchor="middle">10<tspan font-size="2.8" dy="-1.6">1</tspan></text>
<line x1="213.5" y1="278" x2="213.5" y2="279.5" stroke="#555" stroke-width="0.7"/>
<text x="214.0" y="284.3" font-size="4.4" fill="#444" text-anchor="middle">10<tspan font-size="2.8" dy="-1.6">2</tspan></text>
<line x1="236.2" y1="278" x2="236.2" y2="279.5" stroke="#555" stroke-width="0.7"/>
<text x="236.8" y="284.3" font-size="4.4" fill="#444" text-anchor="middle">10<tspan font-size="2.8" dy="-1.6">3</tspan></text>
<line x1="259.0" y1="278" x2="259.0" y2="279.5" stroke="#555" stroke-width="0.7"/>
<text x="259.5" y="284.3" font-size="4.4" fill="#444" text-anchor="middle">10<tspan font-size="2.8" dy="-1.6">4</tspan></text>
<text x="211.2" y="289.3" font-size="4.3" fill="#555" text-anchor="middle">FL1-H</text>
<text transform="translate(163,248.4) rotate(-90)" font-size="4.4" fill="#555" text-anchor="middle">Events</text>
<text x="166" y="220.8" font-size="4.2" fill="#555" text-anchor="end">3</text>
<text x="166" y="279.5" font-size="3.5" fill="#777" text-anchor="end">0</text>
<path d="M168.5,278.0 L168.5,277.5 L169.2,277.3 L169.9,277.2 L170.6,277.0 L171.3,277.3 L172.0,277.0 L172.7,278.0 L173.4,277.7 L174.1,276.9 L174.8,277.4 L175.5,276.9 L176.2,278.0 L176.9,277.6 L177.6,278.0 L178.3,277.5 L179.0,277.4 L179.7,278.0 L180.4,278.0 L181.1,277.9 L181.8,276.8 L182.5,277.1 L183.2,278.0 L183.9,276.7 L184.6,277.7 L185.3,276.6 L186.0,277.4 L186.7,277.4 L187.4,275.4 L188.1,276.6 L188.8,275.9 L189.5,273.3 L190.2,272.8 L190.9,273.7 L191.6,271.1 L192.3,271.3 L193.0,269.4 L193.7,269.6 L194.4,265.6 L195.1,265.0 L195.8,261.5 L196.5,259.4 L197.2,259.5 L197.9,257.0 L198.6,254.6 L199.3,251.3 L200.0,248.3 L200.7,244.3 L201.4,239.8 L202.1,240.7 L202.8,235.5 L203.5,236.1 L204.2,235.0 L204.9,232.7 L205.6,236.2 L206.3,239.7 L207.0,242.6 L207.7,245.3 L208.4,251.8 L209.1,250.1 L209.8,257.4 L210.5,256.0 L211.2,257.3 L211.9,262.5 L212.6,260.9 L213.3,263.7 L214.0,263.4 L214.7,266.0 L215.4,266.3 L216.1,266.3 L216.8,263.7 L217.5,266.9 L218.2,265.2 L218.9,264.9 L219.6,265.2 L220.3,267.7 L221.0,268.0 L221.7,267.8 L222.4,267.2 L223.1,269.9 L223.8,268.1 L224.5,268.3 L225.2,268.4 L225.9,271.5 L226.6,268.7 L227.3,271.6 L228.0,271.0 L228.7,270.3 L229.4,269.5 L230.1,271.5 L230.8,269.9 L231.5,271.2 L232.2,272.1 L232.9,272.3 L233.6,272.9 L234.3,273.3 L235.0,273.2 L235.7,271.7 L236.4,270.9 L237.1,273.4 L237.8,273.8 L238.5,271.2 L239.2,272.6 L239.9,273.0 L240.6,273.6 L241.3,272.6 L242.0,272.1 L242.7,273.3 L243.4,273.6 L244.1,274.7 L244.8,272.6 L245.5,275.1 L246.2,274.1 L246.9,273.3 L247.6,275.3 L248.3,274.0 L249.0,273.6 L249.7,274.6 L250.4,274.5 L251.1,276.5 L251.8,276.0 L252.5,277.0 L253.2,275.9 L253.9,277.3 L254.6,277.2 L255.3,276.3 L256.0,276.7 L256.7,276.7 L257.4,277.7 L258.1,277.7 L258.1,278.0 Z" fill="#8c8c8c" stroke="#111" stroke-width="0.75" stroke-linejoin="round"/>
<path d="M168.5,278.0 L169.3,277.4 L170.1,277.9 L170.9,277.5 L171.7,277.4 L172.5,277.5 L173.3,277.8 L174.1,277.7 L174.9,277.4 L175.7,277.2 L176.5,277.5 L177.3,277.5 L178.1,277.7 L178.9,277.6 L179.7,277.4 L180.5,277.6 L181.3,277.5 L182.1,277.4 L182.9,277.4 L183.7,277.7 L184.5,277.3 L185.3,276.6 L186.1,276.5 L186.9,276.0 L187.7,276.5 L188.5,275.8 L189.3,274.7 L190.1,273.6 L190.9,273.5 L191.7,271.9 L192.5,271.1 L193.3,269.7 L194.1,267.3 L194.9,266.9 L195.7,262.9 L196.5,261.4 L197.3,258.6 L198.1,256.1 L198.9,251.6 L199.7,246.7 L200.5,244.7 L201.3,240.7 L202.1,238.0 L202.9,236.7 L203.7,235.5 L204.5,232.7 L205.3,235.5 L206.1,237.6 L206.9,241.7 L207.7,247.3 L208.5,249.3 L209.3,252.3 L210.1,256.8 L210.9,257.4 L211.7,259.6 L212.5,262.2 L213.3,263.8 L214.1,265.2 L214.9,265.7 L215.7,266.7 L216.5,267.4 L217.3,268.0 L218.1,268.5 L218.9,269.8 L219.7,270.2 L220.5,270.2 L221.3,270.9 L222.1,271.9 L222.9,272.2 L223.7,271.8 L224.5,272.6 L225.3,273.2 L226.1,274.2 L226.9,274.5 L227.7,274.5 L228.5,275.0 L229.3,275.2 L230.1,276.2 L230.9,275.8 L231.7,276.7 L232.5,276.7 L233.3,276.6 L234.1,276.2 L234.9,276.8 L235.7,276.6 L236.5,277.1 L237.3,276.5 L238.1,277.2 L238.9,277.0 L239.7,276.9 L240.5,277.0 L241.3,277.3 L242.1,277.2 L242.9,277.7 L243.7,277.0 L244.5,277.4 L245.3,277.4 L246.1,277.7 L246.9,277.5 L247.7,277.4 L248.5,277.6 L249.3,277.9 L250.1,277.8 L250.9,277.3 L251.7,277.8 L252.5,277.6 L253.3,277.5 L254.1,277.9 L254.9,277.4 L255.7,277.7 L256.5,277.3 L257.3,277.9 L258.1,277.8" fill="none" stroke="#fff" stroke-width="1.2"/>
<path d="M168.5,278.0 L169.3,277.4 L170.1,277.9 L170.9,277.5 L171.7,277.4 L172.5,277.5 L173.3,277.8 L174.1,277.7 L174.9,277.4 L175.7,277.2 L176.5,277.5 L177.3,277.5 L178.1,277.7 L178.9,277.6 L179.7,277.4 L180.5,277.6 L181.3,277.5 L182.1,277.4 L182.9,277.4 L183.7,277.7 L184.5,277.3 L185.3,276.6 L186.1,276.5 L186.9,276.0 L187.7,276.5 L188.5,275.8 L189.3,274.7 L190.1,273.6 L190.9,273.5 L191.7,271.9 L192.5,271.1 L193.3,269.7 L194.1,267.3 L194.9,266.9 L195.7,262.9 L196.5,261.4 L197.3,258.6 L198.1,256.1 L198.9,251.6 L199.7,246.7 L200.5,244.7 L201.3,240.7 L202.1,238.0 L202.9,236.7 L203.7,235.5 L204.5,232.7 L205.3,235.5 L206.1,237.6 L206.9,241.7 L207.7,247.3 L208.5,249.3 L209.3,252.3 L210.1,256.8 L210.9,257.4 L211.7,259.6 L212.5,262.2 L213.3,263.8 L214.1,265.2 L214.9,265.7 L215.7,266.7 L216.5,267.4 L217.3,268.0 L218.1,268.5 L218.9,269.8 L219.7,270.2 L220.5,270.2 L221.3,270.9 L222.1,271.9 L222.9,272.2 L223.7,271.8 L224.5,272.6 L225.3,273.2 L226.1,274.2 L226.9,274.5 L227.7,274.5 L228.5,275.0 L229.3,275.2 L230.1,276.2 L230.9,275.8 L231.7,276.7 L232.5,276.7 L233.3,276.6 L234.1,276.2 L234.9,276.8 L235.7,276.6 L236.5,277.1 L237.3,276.5 L238.1,277.2 L238.9,277.0 L239.7,276.9 L240.5,277.0 L241.3,277.3 L242.1,277.2 L242.9,277.7 L243.7,277.0 L244.5,277.4 L245.3,277.4 L246.1,277.7 L246.9,277.5 L247.7,277.4 L248.5,277.6 L249.3,277.9 L250.1,277.8 L250.9,277.3 L251.7,277.8 L252.5,277.6 L253.3,277.5 L254.1,277.9 L254.9,277.4 L255.7,277.7 L256.5,277.3 L257.3,277.9 L258.1,277.8" fill="none" stroke="#000" stroke-width="1.0" stroke-dasharray="2.2,1.6"/>
<line x1="168" y1="278" x2="259" y2="278" stroke="#333" stroke-width="0.9"/>
<line x1="279.4" y1="218.8" x2="279.4" y2="278" stroke="#a8a8a8" stroke-width="0.9"/>
<line x1="277.9" y1="278.0" x2="279.4" y2="278.0" stroke="#777" stroke-width="0.7"/>
<line x1="277.9" y1="263.2" x2="279.4" y2="263.2" stroke="#777" stroke-width="0.7"/>
<line x1="277.9" y1="248.4" x2="279.4" y2="248.4" stroke="#777" stroke-width="0.7"/>
<line x1="277.9" y1="233.6" x2="279.4" y2="233.6" stroke="#777" stroke-width="0.7"/>
<line x1="277.9" y1="218.8" x2="279.4" y2="218.8" stroke="#777" stroke-width="0.7"/>
<line x1="279.4" y1="278" x2="279.4" y2="279.5" stroke="#555" stroke-width="0.7"/>
<text x="279.9" y="284.3" font-size="4.4" fill="#444" text-anchor="middle">10<tspan font-size="2.8" dy="-1.6">0</tspan></text>
<line x1="302.2" y1="278" x2="302.2" y2="279.5" stroke="#555" stroke-width="0.7"/>
<text x="302.7" y="284.3" font-size="4.4" fill="#444" text-anchor="middle">10<tspan font-size="2.8" dy="-1.6">1</tspan></text>
<line x1="324.9" y1="278" x2="324.9" y2="279.5" stroke="#555" stroke-width="0.7"/>
<text x="325.4" y="284.3" font-size="4.4" fill="#444" text-anchor="middle">10<tspan font-size="2.8" dy="-1.6">2</tspan></text>
<line x1="347.7" y1="278" x2="347.7" y2="279.5" stroke="#555" stroke-width="0.7"/>
<text x="348.2" y="284.3" font-size="4.4" fill="#444" text-anchor="middle">10<tspan font-size="2.8" dy="-1.6">3</tspan></text>
<line x1="370.5" y1="278" x2="370.5" y2="279.5" stroke="#555" stroke-width="0.7"/>
<text x="371.0" y="284.3" font-size="4.4" fill="#444" text-anchor="middle">10<tspan font-size="2.8" dy="-1.6">4</tspan></text>
<text x="322.7" y="289.3" font-size="4.3" fill="#555" text-anchor="middle">FL1-H</text>
<text transform="translate(274.4,248.4) rotate(-90)" font-size="4.4" fill="#555" text-anchor="middle">Events</text>
<text x="277.4" y="220.8" font-size="4.2" fill="#555" text-anchor="end">3</text>
<text x="277.4" y="279.5" font-size="3.5" fill="#777" text-anchor="end">0</text>
<path d="M279.9,278.0 L279.9,278.0 L280.6,278.0 L281.3,277.4 L282.0,278.0 L282.7,277.5 L283.4,277.8 L284.1,278.0 L284.8,277.5 L285.5,278.0 L286.2,277.6 L286.9,278.0 L287.6,278.0 L288.3,277.5 L289.0,276.8 L289.7,278.0 L290.4,277.8 L291.1,277.1 L291.8,276.5 L292.5,277.1 L293.2,277.4 L293.9,276.3 L294.6,278.0 L295.3,276.5 L296.0,277.5 L296.7,277.8 L297.4,277.8 L298.1,277.4 L298.8,276.4 L299.5,277.2 L300.2,275.8 L300.9,275.0 L301.6,275.0 L302.3,274.0 L303.0,274.7 L303.7,274.1 L304.4,273.1 L305.1,271.1 L305.8,271.3 L306.5,271.0 L307.2,269.3 L307.9,268.1 L308.6,267.1 L309.3,263.7 L310.0,262.5 L310.7,262.7 L311.4,259.9 L312.1,258.7 L312.8,255.7 L313.5,254.9 L314.2,255.6 L314.9,250.9 L315.6,254.5 L316.3,252.7 L317.0,250.7 L317.7,255.1 L318.4,254.9 L319.1,258.3 L319.8,256.9 L320.5,257.3 L321.2,258.9 L321.9,258.3 L322.6,261.4 L323.3,260.5 L324.0,261.6 L324.7,262.0 L325.4,262.7 L326.1,261.5 L326.8,261.4 L327.5,263.5 L328.2,263.0 L328.9,265.7 L329.6,263.4 L330.3,263.8 L331.0,262.6 L331.7,263.4 L332.4,265.7 L333.1,265.5 L333.8,264.8 L334.5,267.5 L335.2,266.2 L335.9,267.7 L336.6,268.2 L337.3,268.7 L338.0,266.6 L338.7,269.1 L339.4,269.1 L340.1,268.9 L340.8,267.6 L341.5,270.6 L342.2,269.8 L342.9,269.8 L343.6,268.6 L344.3,268.6 L345.0,268.3 L345.7,270.1 L346.4,269.4 L347.1,269.5 L347.8,268.0 L348.5,268.0 L349.2,270.9 L349.9,271.0 L350.6,271.1 L351.3,271.3 L352.0,270.7 L352.7,270.6 L353.4,271.9 L354.1,273.1 L354.8,272.1 L355.5,272.6 L356.2,272.4 L356.9,271.7 L357.6,272.8 L358.3,273.6 L359.0,273.7 L359.7,273.9 L360.4,275.8 L361.1,274.1 L361.8,274.8 L362.5,275.1 L363.2,275.7 L363.9,277.0 L364.6,277.4 L365.3,278.0 L366.0,277.3 L366.7,278.0 L367.4,278.0 L368.1,278.0 L368.8,278.0 L369.5,277.9 L369.5,278.0 Z" fill="#8c8c8c" stroke="#111" stroke-width="0.75" stroke-linejoin="round"/>
<path d="M279.9,278.0 L280.7,277.6 L281.5,277.9 L282.3,277.5 L283.1,277.0 L283.9,277.5 L284.7,276.8 L285.5,277.0 L286.3,276.7 L287.1,277.4 L287.9,276.7 L288.7,276.8 L289.5,276.7 L290.3,276.8 L291.1,276.1 L291.9,276.4 L292.7,276.2 L293.5,276.2 L294.3,276.2 L295.1,275.9 L295.9,276.0 L296.7,276.0 L297.5,276.0 L298.3,274.9 L299.1,274.7 L299.9,273.5 L300.7,273.0 L301.5,271.9 L302.3,271.5 L303.1,271.0 L303.9,269.2 L304.7,268.1 L305.5,265.2 L306.3,263.8 L307.1,263.0 L307.9,262.0 L308.7,260.3 L309.5,258.6 L310.3,257.2 L311.1,253.7 L311.9,253.3 L312.7,250.3 L313.5,248.2 L314.3,248.2 L315.1,247.9 L315.9,248.6 L316.7,250.1 L317.5,249.9 L318.3,252.9 L319.1,254.5 L319.9,255.6 L320.7,257.7 L321.5,258.6 L322.3,260.5 L323.1,262.0 L323.9,262.0 L324.7,264.0 L325.5,265.4 L326.3,266.4 L327.1,267.3 L327.9,268.9 L328.7,269.3 L329.5,270.4 L330.3,271.3 L331.1,273.7 L331.9,274.1 L332.7,274.5 L333.5,275.1 L334.3,276.6 L335.1,276.7 L335.9,277.5 L336.7,277.2 L337.5,277.7 L338.3,277.7 L339.1,277.4 L339.9,277.7 L340.7,277.4 L341.5,277.4 L342.3,277.7 L343.1,277.7 L343.9,277.8 L344.7,277.9 L345.5,277.8 L346.3,277.5 L347.1,277.8 L347.9,277.5 L348.7,278.0 L349.5,278.0 L350.3,277.3 L351.1,277.9 L351.9,278.0 L352.7,277.4 L353.5,277.5 L354.3,277.4 L355.1,277.4 L355.9,278.0 L356.7,277.6 L357.5,277.6 L358.3,277.9 L359.1,277.6 L359.9,277.8 L360.7,277.8 L361.5,277.8 L362.3,277.7 L363.1,277.9 L363.9,277.5 L364.7,277.8 L365.5,277.8 L366.3,277.8 L367.1,277.7 L367.9,277.4 L368.7,277.4 L369.5,277.7" fill="none" stroke="#fff" stroke-width="1.2"/>
<path d="M279.9,278.0 L280.7,277.6 L281.5,277.9 L282.3,277.5 L283.1,277.0 L283.9,277.5 L284.7,276.8 L285.5,277.0 L286.3,276.7 L287.1,277.4 L287.9,276.7 L288.7,276.8 L289.5,276.7 L290.3,276.8 L291.1,276.1 L291.9,276.4 L292.7,276.2 L293.5,276.2 L294.3,276.2 L295.1,275.9 L295.9,276.0 L296.7,276.0 L297.5,276.0 L298.3,274.9 L299.1,274.7 L299.9,273.5 L300.7,273.0 L301.5,271.9 L302.3,271.5 L303.1,271.0 L303.9,269.2 L304.7,268.1 L305.5,265.2 L306.3,263.8 L307.1,263.0 L307.9,262.0 L308.7,260.3 L309.5,258.6 L310.3,257.2 L311.1,253.7 L311.9,253.3 L312.7,250.3 L313.5,248.2 L314.3,248.2 L315.1,247.9 L315.9,248.6 L316.7,250.1 L317.5,249.9 L318.3,252.9 L319.1,254.5 L319.9,255.6 L320.7,257.7 L321.5,258.6 L322.3,260.5 L323.1,262.0 L323.9,262.0 L324.7,264.0 L325.5,265.4 L326.3,266.4 L327.1,267.3 L327.9,268.9 L328.7,269.3 L329.5,270.4 L330.3,271.3 L331.1,273.7 L331.9,274.1 L332.7,274.5 L333.5,275.1 L334.3,276.6 L335.1,276.7 L335.9,277.5 L336.7,277.2 L337.5,277.7 L338.3,277.7 L339.1,277.4 L339.9,277.7 L340.7,277.4 L341.5,277.4 L342.3,277.7 L343.1,277.7 L343.9,277.8 L344.7,277.9 L345.5,277.8 L346.3,277.5 L347.1,277.8 L347.9,277.5 L348.7,278.0 L349.5,278.0 L350.3,277.3 L351.1,277.9 L351.9,278.0 L352.7,277.4 L353.5,277.5 L354.3,277.4 L355.1,277.4 L355.9,278.0 L356.7,277.6 L357.5,277.6 L358.3,277.9 L359.1,277.6 L359.9,277.8 L360.7,277.8 L361.5,277.8 L362.3,277.7 L363.1,277.9 L363.9,277.5 L364.7,277.8 L365.5,277.8 L366.3,277.8 L367.1,277.7 L367.9,277.4 L368.7,277.4 L369.5,277.7" fill="none" stroke="#000" stroke-width="1.0" stroke-dasharray="2.2,1.6"/>
<line x1="279.4" y1="278" x2="370.5" y2="278" stroke="#333" stroke-width="0.9"/>
<line x1="389.8" y1="218.8" x2="389.8" y2="278.2" stroke="#a8a8a8" stroke-width="0.9"/>
<line x1="388.3" y1="278.2" x2="389.8" y2="278.2" stroke="#777" stroke-width="0.7"/>
<line x1="388.3" y1="263.4" x2="389.8" y2="263.4" stroke="#777" stroke-width="0.7"/>
<line x1="388.3" y1="248.5" x2="389.8" y2="248.5" stroke="#777" stroke-width="0.7"/>
<line x1="388.3" y1="233.7" x2="389.8" y2="233.7" stroke="#777" stroke-width="0.7"/>
<line x1="388.3" y1="218.8" x2="389.8" y2="218.8" stroke="#777" stroke-width="0.7"/>
<line x1="389.8" y1="278.2" x2="389.8" y2="279.7" stroke="#555" stroke-width="0.7"/>
<text x="390.3" y="284.5" font-size="4.4" fill="#444" text-anchor="middle">10<tspan font-size="2.8" dy="-1.6">0</tspan></text>
<line x1="412.7" y1="278.2" x2="412.7" y2="279.7" stroke="#555" stroke-width="0.7"/>
<text x="413.2" y="284.5" font-size="4.4" fill="#444" text-anchor="middle">10<tspan font-size="2.8" dy="-1.6">1</tspan></text>
<line x1="435.6" y1="278.2" x2="435.6" y2="279.7" stroke="#555" stroke-width="0.7"/>
<text x="436.1" y="284.5" font-size="4.4" fill="#444" text-anchor="middle">10<tspan font-size="2.8" dy="-1.6">2</tspan></text>
<line x1="458.5" y1="278.2" x2="458.5" y2="279.7" stroke="#555" stroke-width="0.7"/>
<text x="459.0" y="284.5" font-size="4.4" fill="#444" text-anchor="middle">10<tspan font-size="2.8" dy="-1.6">3</tspan></text>
<line x1="481.4" y1="278.2" x2="481.4" y2="279.7" stroke="#555" stroke-width="0.7"/>
<text x="481.9" y="284.5" font-size="4.4" fill="#444" text-anchor="middle">10<tspan font-size="2.8" dy="-1.6">4</tspan></text>
<text x="433.3" y="289.5" font-size="4.3" fill="#555" text-anchor="middle">FL1-H</text>
<text transform="translate(384.8,248.5) rotate(-90)" font-size="4.4" fill="#555" text-anchor="middle">Events</text>
<text x="387.8" y="220.8" font-size="4.2" fill="#555" text-anchor="end">3</text>
<text x="387.8" y="279.7" font-size="3.5" fill="#777" text-anchor="end">0</text>
<path d="M390.3,278.2 L390.3,277.9 L391.0,278.0 L391.7,278.2 L392.4,277.1 L393.1,278.2 L393.8,277.6 L394.5,276.8 L395.2,278.2 L395.9,277.3 L396.6,277.1 L397.3,278.2 L398.0,277.5 L398.7,276.8 L399.4,277.2 L400.1,276.6 L400.8,277.7 L401.5,277.5 L402.2,277.7 L402.9,276.8 L403.6,275.9 L404.3,276.5 L405.0,276.1 L405.7,276.8 L406.4,276.0 L407.1,277.3 L407.8,276.9 L408.5,276.0 L409.2,275.8 L409.9,276.4 L410.6,277.1 L411.3,276.7 L412.0,276.7 L412.7,276.5 L413.4,274.8 L414.1,275.4 L414.8,272.7 L415.5,271.8 L416.2,273.3 L416.9,271.5 L417.6,269.4 L418.3,269.1 L419.0,265.8 L419.7,262.0 L420.4,263.3 L421.1,259.4 L421.8,259.8 L422.5,256.1 L423.2,253.0 L423.9,254.7 L424.6,254.2 L425.3,252.5 L426.0,248.8 L426.7,250.1 L427.4,250.3 L428.1,250.3 L428.8,250.4 L429.5,254.2 L430.2,255.5 L430.9,255.5 L431.6,259.2 L432.3,257.9 L433.0,260.4 L433.7,259.2 L434.4,258.5 L435.1,263.0 L435.8,261.8 L436.5,262.6 L437.2,265.3 L437.9,265.8 L438.6,262.8 L439.3,262.4 L440.0,265.5 L440.7,261.8 L441.4,259.3 L442.1,260.8 L442.8,256.8 L443.5,257.1 L444.2,251.0 L444.9,253.7 L445.6,252.9 L446.3,250.8 L447.0,253.0 L447.7,252.1 L448.4,249.9 L449.1,251.5 L449.8,251.4 L450.5,251.0 L451.2,247.4 L451.9,248.7 L452.6,251.8 L453.3,248.4 L454.0,251.2 L454.7,251.1 L455.4,253.1 L456.1,253.1 L456.8,254.8 L457.5,257.1 L458.2,255.9 L458.9,259.9 L459.6,258.5 L460.3,263.3 L461.0,261.9 L461.7,263.0 L462.4,265.3 L463.1,265.7 L463.8,268.6 L464.5,268.0 L465.2,270.2 L465.9,272.0 L466.6,271.0 L467.3,273.4 L468.0,273.9 L468.7,272.9 L469.4,274.5 L470.1,274.1 L470.8,275.7 L471.5,274.3 L472.2,275.9 L472.9,276.5 L473.6,274.5 L474.3,276.6 L475.0,275.0 L475.7,275.3 L476.4,276.4 L477.1,278.0 L477.8,278.2 L478.5,278.2 L479.2,278.1 L479.9,277.7 L480.6,277.2 L480.6,278.2 Z" fill="#8c8c8c" stroke="#111" stroke-width="0.75" stroke-linejoin="round"/>
<path d="M390.3,278.1 L391.1,277.5 L391.9,277.4 L392.7,278.0 L393.5,277.3 L394.3,277.3 L395.1,277.2 L395.9,277.7 L396.7,276.9 L397.5,277.3 L398.3,276.8 L399.1,277.0 L399.9,276.7 L400.7,276.6 L401.5,276.9 L402.3,276.5 L403.1,276.1 L403.9,276.1 L404.7,276.0 L405.5,276.8 L406.3,276.1 L407.1,275.8 L407.9,276.3 L408.7,276.5 L409.5,275.1 L410.3,274.4 L411.1,272.9 L411.9,272.9 L412.7,272.1 L413.5,270.5 L414.3,268.5 L415.1,266.1 L415.9,264.4 L416.7,261.3 L417.5,259.1 L418.3,255.9 L419.1,252.4 L419.9,250.4 L420.7,246.9 L421.5,244.3 L422.3,240.2 L423.1,239.4 L423.9,243.6 L424.7,246.5 L425.5,246.4 L426.3,245.6 L427.1,247.4 L427.9,245.7 L428.7,242.2 L429.5,239.1 L430.3,242.8 L431.1,245.7 L431.9,248.8 L432.7,252.9 L433.5,255.8 L434.3,258.4 L435.1,260.1 L435.9,262.3 L436.7,263.5 L437.5,265.0 L438.3,266.7 L439.1,267.9 L439.9,268.9 L440.7,269.7 L441.5,270.1 L442.3,271.5 L443.1,272.8 L443.9,272.4 L444.7,273.7 L445.5,274.3 L446.3,275.3 L447.1,275.4 L447.9,275.8 L448.7,277.2 L449.5,277.0 L450.3,277.6 L451.1,277.4 L451.9,277.7 L452.7,277.4 L453.5,277.3 L454.3,277.8 L455.1,278.0 L455.9,277.7 L456.7,277.7 L457.5,278.2 L458.3,277.9 L459.1,277.7 L459.9,277.6 L460.7,278.2 L461.5,277.6 L462.3,278.1 L463.1,277.8 L463.9,277.6 L464.7,277.7 L465.5,278.0 L466.3,277.7 L467.1,278.0 L467.9,278.1 L468.7,277.6 L469.5,278.2 L470.3,277.5 L471.1,278.2 L471.9,277.7 L472.7,278.1 L473.5,278.0 L474.3,278.2 L475.1,277.8 L475.9,277.7 L476.7,277.7 L477.5,278.1 L478.3,278.1 L479.1,278.2 L479.9,278.2 L480.7,277.8" fill="none" stroke="#fff" stroke-width="1.2"/>
<path d="M390.3,278.1 L391.1,277.5 L391.9,277.4 L392.7,278.0 L393.5,277.3 L394.3,277.3 L395.1,277.2 L395.9,277.7 L396.7,276.9 L397.5,277.3 L398.3,276.8 L399.1,277.0 L399.9,276.7 L400.7,276.6 L401.5,276.9 L402.3,276.5 L403.1,276.1 L403.9,276.1 L404.7,276.0 L405.5,276.8 L406.3,276.1 L407.1,275.8 L407.9,276.3 L408.7,276.5 L409.5,275.1 L410.3,274.4 L411.1,272.9 L411.9,272.9 L412.7,272.1 L413.5,270.5 L414.3,268.5 L415.1,266.1 L415.9,264.4 L416.7,261.3 L417.5,259.1 L418.3,255.9 L419.1,252.4 L419.9,250.4 L420.7,246.9 L421.5,244.3 L422.3,240.2 L423.1,239.4 L423.9,243.6 L424.7,246.5 L425.5,246.4 L426.3,245.6 L427.1,247.4 L427.9,245.7 L428.7,242.2 L429.5,239.1 L430.3,242.8 L431.1,245.7 L431.9,248.8 L432.7,252.9 L433.5,255.8 L434.3,258.4 L435.1,260.1 L435.9,262.3 L436.7,263.5 L437.5,265.0 L438.3,266.7 L439.1,267.9 L439.9,268.9 L440.7,269.7 L441.5,270.1 L442.3,271.5 L443.1,272.8 L443.9,272.4 L444.7,273.7 L445.5,274.3 L446.3,275.3 L447.1,275.4 L447.9,275.8 L448.7,277.2 L449.5,277.0 L450.3,277.6 L451.1,277.4 L451.9,277.7 L452.7,277.4 L453.5,277.3 L454.3,277.8 L455.1,278.0 L455.9,277.7 L456.7,277.7 L457.5,278.2 L458.3,277.9 L459.1,277.7 L459.9,277.6 L460.7,278.2 L461.5,277.6 L462.3,278.1 L463.1,277.8 L463.9,277.6 L464.7,277.7 L465.5,278.0 L466.3,277.7 L467.1,278.0 L467.9,278.1 L468.7,277.6 L469.5,278.2 L470.3,277.5 L471.1,278.2 L471.9,277.7 L472.7,278.1 L473.5,278.0 L474.3,278.2 L475.1,277.8 L475.9,277.7 L476.7,277.7 L477.5,278.1 L478.3,278.1 L479.1,278.2 L479.9,278.2 L480.7,277.8" fill="none" stroke="#000" stroke-width="1.0" stroke-dasharray="2.2,1.6"/>
<line x1="389.8" y1="278.2" x2="481.4" y2="278.2" stroke="#333" stroke-width="0.9"/>
<line x1="48.5" y1="317.5" x2="48.5" y2="381.6" stroke="#a8a8a8" stroke-width="0.9"/>
<line x1="47.0" y1="381.6" x2="48.5" y2="381.6" stroke="#777" stroke-width="0.7"/>
<line x1="47.0" y1="365.6" x2="48.5" y2="365.6" stroke="#777" stroke-width="0.7"/>
<line x1="47.0" y1="349.6" x2="48.5" y2="349.6" stroke="#777" stroke-width="0.7"/>
<line x1="47.0" y1="333.5" x2="48.5" y2="333.5" stroke="#777" stroke-width="0.7"/>
<line x1="47.0" y1="317.5" x2="48.5" y2="317.5" stroke="#777" stroke-width="0.7"/>
<line x1="48.5" y1="381.6" x2="48.5" y2="383.1" stroke="#555" stroke-width="0.7"/>
<text x="49.0" y="387.9" font-size="4.4" fill="#444" text-anchor="middle">10<tspan font-size="2.8" dy="-1.6">0</tspan></text>
<line x1="73.1" y1="381.6" x2="73.1" y2="383.1" stroke="#555" stroke-width="0.7"/>
<text x="73.6" y="387.9" font-size="4.4" fill="#444" text-anchor="middle">10<tspan font-size="2.8" dy="-1.6">1</tspan></text>
<line x1="97.7" y1="381.6" x2="97.7" y2="383.1" stroke="#555" stroke-width="0.7"/>
<text x="98.2" y="387.9" font-size="4.4" fill="#444" text-anchor="middle">10<tspan font-size="2.8" dy="-1.6">2</tspan></text>
<line x1="122.2" y1="381.6" x2="122.2" y2="383.1" stroke="#555" stroke-width="0.7"/>
<text x="122.7" y="387.9" font-size="4.4" fill="#444" text-anchor="middle">10<tspan font-size="2.8" dy="-1.6">3</tspan></text>
<line x1="146.8" y1="381.6" x2="146.8" y2="383.1" stroke="#555" stroke-width="0.7"/>
<text x="147.3" y="387.9" font-size="4.4" fill="#444" text-anchor="middle">10<tspan font-size="2.8" dy="-1.6">4</tspan></text>
<text x="95.2" y="392.9" font-size="4.3" fill="#555" text-anchor="middle">FL1-H</text>
<text transform="translate(43.5,349.6) rotate(-90)" font-size="4.4" fill="#555" text-anchor="middle">Events</text>
<text x="46.5" y="319.5" font-size="4.2" fill="#555" text-anchor="end">3</text>
<text x="46.5" y="383.1" font-size="3.5" fill="#777" text-anchor="end">0</text>
<path d="M49.0,381.6 L49.0,381.4 L49.7,381.2 L50.4,380.6 L51.1,381.3 L51.8,381.2 L52.5,381.0 L53.2,381.6 L53.9,381.1 L54.6,380.9 L55.3,380.6 L56.0,381.6 L56.7,381.4 L57.4,381.6 L58.1,380.4 L58.8,380.3 L59.5,381.3 L60.2,379.1 L60.9,378.8 L61.6,379.2 L62.3,379.0 L63.0,379.8 L63.7,379.6 L64.4,377.8 L65.1,378.5 L65.8,377.6 L66.5,376.9 L67.2,377.0 L67.9,375.2 L68.6,374.2 L69.3,371.7 L70.0,371.6 L70.7,370.0 L71.4,368.9 L72.1,366.4 L72.8,365.4 L73.5,364.3 L74.2,359.2 L74.9,357.0 L75.6,355.6 L76.3,354.4 L77.0,354.9 L77.7,354.0 L78.4,352.7 L79.1,353.1 L79.8,348.8 L80.5,349.3 L81.2,345.1 L81.9,345.8 L82.6,340.5 L83.3,340.9 L84.0,347.8 L84.7,348.7 L85.4,346.8 L86.1,350.9 L86.8,350.1 L87.5,355.3 L88.2,359.2 L88.9,359.1 L89.6,360.9 L90.3,365.5 L91.0,368.6 L91.7,369.0 L92.4,368.1 L93.1,370.3 L93.8,373.9 L94.5,374.3 L95.2,375.5 L95.9,376.2 L96.6,374.7 L97.3,377.2 L98.0,376.8 L98.7,377.4 L99.4,378.3 L100.1,377.1 L100.8,378.9 L101.5,377.8 L102.2,379.4 L102.9,378.8 L103.6,379.6 L104.3,379.6 L105.0,378.0 L105.7,378.5 L106.4,379.7 L107.1,378.4 L107.8,380.0 L108.5,379.7 L109.2,378.7 L109.9,379.3 L110.6,380.5 L111.3,378.7 L112.0,380.4 L112.7,380.4 L113.4,379.4 L114.1,380.4 L114.8,380.5 L115.5,381.0 L116.2,381.0 L116.9,380.1 L117.6,380.8 L118.3,380.2 L119.0,380.7 L119.7,380.6 L120.4,379.6 L121.1,380.6 L121.8,380.5 L122.5,380.0 L123.2,381.4 L123.9,381.5 L124.6,380.1 L125.3,380.4 L126.0,381.4 L126.7,381.6 L127.4,380.6 L128.1,380.3 L128.8,381.6 L129.5,380.3 L130.2,380.4 L130.9,380.9 L131.6,381.2 L132.3,381.6 L133.0,381.6 L133.7,380.3 L134.4,381.6 L135.1,380.8 L135.8,381.6 L136.5,380.6 L137.2,381.0 L137.9,381.5 L138.6,381.6 L139.3,380.8 L140.0,381.6 L140.7,381.6 L141.4,381.1 L142.1,380.7 L142.8,381.1 L143.5,381.6 L144.2,380.6 L144.9,381.6 L145.6,381.6 L146.3,381.6 L146.3,381.6 Z" fill="#8c8c8c" stroke="#111" stroke-width="0.75" stroke-linejoin="round"/>
<path d="M49.0,381.3 L49.8,381.2 L50.6,381.0 L51.4,381.4 L52.2,381.3 L53.0,381.0 L53.8,381.2 L54.6,381.2 L55.4,381.2 L56.2,381.2 L57.0,381.3 L57.8,380.9 L58.6,380.4 L59.4,380.3 L60.2,380.0 L61.0,380.0 L61.8,379.5 L62.6,379.5 L63.4,378.4 L64.2,378.3 L65.0,377.7 L65.8,376.1 L66.6,376.3 L67.4,374.8 L68.2,374.5 L69.0,372.9 L69.8,371.8 L70.6,371.2 L71.4,368.6 L72.2,367.2 L73.0,364.8 L73.8,363.3 L74.6,361.1 L75.4,358.1 L76.2,356.7 L77.0,354.3 L77.8,351.6 L78.6,350.2 L79.4,350.8 L80.2,350.5 L81.0,347.9 L81.8,346.6 L82.6,343.9 L83.4,342.9 L84.2,345.3 L85.0,349.2 L85.8,350.0 L86.6,352.2 L87.4,354.6 L88.2,358.0 L89.0,360.2 L89.8,363.6 L90.6,365.2 L91.4,367.5 L92.2,369.2 L93.0,371.2 L93.8,371.9 L94.6,373.8 L95.4,374.8 L96.2,375.4 L97.0,375.4 L97.8,377.2 L98.6,376.9 L99.4,376.9 L100.2,377.3 L101.0,378.0 L101.8,378.3 L102.6,378.1 L103.4,378.6 L104.2,378.7 L105.0,379.5 L105.8,379.1 L106.6,379.0 L107.4,379.6 L108.2,379.7 L109.0,379.1 L109.8,379.5 L110.6,379.8 L111.4,379.8 L112.2,380.1 L113.0,380.2 L113.8,380.4 L114.6,380.1 L115.4,380.5 L116.2,379.8 L117.0,379.8 L117.8,380.2 L118.6,380.8 L119.4,380.4 L120.2,380.8 L121.0,380.7 L121.8,381.0 L122.6,380.7 L123.4,381.2 L124.2,381.0 L125.0,381.1 L125.8,381.0 L126.6,380.7 L127.4,381.0 L128.2,380.8 L129.0,380.9 L129.8,381.0 L130.6,381.4 L131.4,381.4 L132.2,381.4 L133.0,381.1 L133.8,381.2 L134.6,380.8 L135.4,381.4 L136.2,381.4 L137.0,381.1 L137.8,381.1 L138.6,381.5 L139.4,381.3 L140.2,381.3 L141.0,381.0 L141.8,381.0 L142.6,381.0 L143.4,381.2 L144.2,380.9 L145.0,381.3 L145.8,381.5" fill="none" stroke="#fff" stroke-width="1.2"/>
<path d="M49.0,381.3 L49.8,381.2 L50.6,381.0 L51.4,381.4 L52.2,381.3 L53.0,381.0 L53.8,381.2 L54.6,381.2 L55.4,381.2 L56.2,381.2 L57.0,381.3 L57.8,380.9 L58.6,380.4 L59.4,380.3 L60.2,380.0 L61.0,380.0 L61.8,379.5 L62.6,379.5 L63.4,378.4 L64.2,378.3 L65.0,377.7 L65.8,376.1 L66.6,376.3 L67.4,374.8 L68.2,374.5 L69.0,372.9 L69.8,371.8 L70.6,371.2 L71.4,368.6 L72.2,367.2 L73.0,364.8 L73.8,363.3 L74.6,361.1 L75.4,358.1 L76.2,356.7 L77.0,354.3 L77.8,351.6 L78.6,350.2 L79.4,350.8 L80.2,350.5 L81.0,347.9 L81.8,346.6 L82.6,343.9 L83.4,342.9 L84.2,345.3 L85.0,349.2 L85.8,350.0 L86.6,352.2 L87.4,354.6 L88.2,358.0 L89.0,360.2 L89.8,363.6 L90.6,365.2 L91.4,367.5 L92.2,369.2 L93.0,371.2 L93.8,371.9 L94.6,373.8 L95.4,374.8 L96.2,375.4 L97.0,375.4 L97.8,377.2 L98.6,376.9 L99.4,376.9 L100.2,377.3 L101.0,378.0 L101.8,378.3 L102.6,378.1 L103.4,378.6 L104.2,378.7 L105.0,379.5 L105.8,379.1 L106.6,379.0 L107.4,379.6 L108.2,379.7 L109.0,379.1 L109.8,379.5 L110.6,379.8 L111.4,379.8 L112.2,380.1 L113.0,380.2 L113.8,380.4 L114.6,380.1 L115.4,380.5 L116.2,379.8 L117.0,379.8 L117.8,380.2 L118.6,380.8 L119.4,380.4 L120.2,380.8 L121.0,380.7 L121.8,381.0 L122.6,380.7 L123.4,381.2 L124.2,381.0 L125.0,381.1 L125.8,381.0 L126.6,380.7 L127.4,381.0 L128.2,380.8 L129.0,380.9 L129.8,381.0 L130.6,381.4 L131.4,381.4 L132.2,381.4 L133.0,381.1 L133.8,381.2 L134.6,380.8 L135.4,381.4 L136.2,381.4 L137.0,381.1 L137.8,381.1 L138.6,381.5 L139.4,381.3 L140.2,381.3 L141.0,381.0 L141.8,381.0 L142.6,381.0 L143.4,381.2 L144.2,380.9 L145.0,381.3 L145.8,381.5" fill="none" stroke="#000" stroke-width="1.0" stroke-dasharray="2.2,1.6"/>
<line x1="48.5" y1="381.6" x2="146.8" y2="381.6" stroke="#333" stroke-width="0.9"/>
<line x1="168.9" y1="317.5" x2="168.9" y2="381.2" stroke="#a8a8a8" stroke-width="0.9"/>
<line x1="167.4" y1="381.2" x2="168.9" y2="381.2" stroke="#777" stroke-width="0.7"/>
<line x1="167.4" y1="365.3" x2="168.9" y2="365.3" stroke="#777" stroke-width="0.7"/>
<line x1="167.4" y1="349.4" x2="168.9" y2="349.4" stroke="#777" stroke-width="0.7"/>
<line x1="167.4" y1="333.4" x2="168.9" y2="333.4" stroke="#777" stroke-width="0.7"/>
<line x1="167.4" y1="317.5" x2="168.9" y2="317.5" stroke="#777" stroke-width="0.7"/>
<line x1="168.9" y1="381.2" x2="168.9" y2="382.7" stroke="#555" stroke-width="0.7"/>
<text x="169.4" y="387.5" font-size="4.4" fill="#444" text-anchor="middle">10<tspan font-size="2.8" dy="-1.6">0</tspan></text>
<line x1="192.2" y1="381.2" x2="192.2" y2="382.7" stroke="#555" stroke-width="0.7"/>
<text x="192.7" y="387.5" font-size="4.4" fill="#444" text-anchor="middle">10<tspan font-size="2.8" dy="-1.6">1</tspan></text>
<line x1="215.4" y1="381.2" x2="215.4" y2="382.7" stroke="#555" stroke-width="0.7"/>
<text x="215.9" y="387.5" font-size="4.4" fill="#444" text-anchor="middle">10<tspan font-size="2.8" dy="-1.6">2</tspan></text>
<line x1="238.7" y1="381.2" x2="238.7" y2="382.7" stroke="#555" stroke-width="0.7"/>
<text x="239.2" y="387.5" font-size="4.4" fill="#444" text-anchor="middle">10<tspan font-size="2.8" dy="-1.6">3</tspan></text>
<line x1="262.0" y1="381.2" x2="262.0" y2="382.7" stroke="#555" stroke-width="0.7"/>
<text x="262.5" y="387.5" font-size="4.4" fill="#444" text-anchor="middle">10<tspan font-size="2.8" dy="-1.6">4</tspan></text>
<text x="213.1" y="392.5" font-size="4.3" fill="#555" text-anchor="middle">FL1-H</text>
<text transform="translate(163.9,349.4) rotate(-90)" font-size="4.4" fill="#555" text-anchor="middle">Events</text>
<text x="166.9" y="319.5" font-size="4.2" fill="#555" text-anchor="end">3</text>
<text x="166.9" y="382.7" font-size="3.5" fill="#777" text-anchor="end">0</text>
<path d="M169.4,381.2 L169.4,381.2 L170.1,380.5 L170.8,380.5 L171.5,380.1 L172.2,381.2 L172.9,381.1 L173.6,381.2 L174.3,381.0 L175.0,380.1 L175.7,381.1 L176.4,380.3 L177.1,380.9 L177.8,380.7 L178.5,380.4 L179.2,379.5 L179.9,379.9 L180.6,381.0 L181.3,380.5 L182.0,380.7 L182.7,379.0 L183.4,378.9 L184.1,378.6 L184.8,378.3 L185.5,378.3 L186.2,377.5 L186.9,377.7 L187.6,378.7 L188.3,376.9 L189.0,377.3 L189.7,376.0 L190.4,376.0 L191.1,375.9 L191.8,375.6 L192.5,374.4 L193.2,373.6 L193.9,373.1 L194.6,369.5 L195.3,368.2 L196.0,365.8 L196.7,365.3 L197.4,364.2 L198.1,361.6 L198.8,361.6 L199.5,356.5 L200.2,355.0 L200.9,353.8 L201.6,351.1 L202.3,347.1 L203.0,346.7 L203.7,344.5 L204.4,344.6 L205.1,346.8 L205.8,349.6 L206.5,349.0 L207.2,351.8 L207.9,353.1 L208.6,354.7 L209.3,355.3 L210.0,358.1 L210.7,356.7 L211.4,356.9 L212.1,361.2 L212.8,361.6 L213.5,362.0 L214.2,366.9 L214.9,367.6 L215.6,366.1 L216.3,367.0 L217.0,368.5 L217.7,370.9 L218.4,370.7 L219.1,369.8 L219.8,370.5 L220.5,371.4 L221.2,373.9 L221.9,372.3 L222.6,374.3 L223.3,373.8 L224.0,376.1 L224.7,373.8 L225.4,375.2 L226.1,375.1 L226.8,376.8 L227.5,375.8 L228.2,376.2 L228.9,376.4 L229.6,377.2 L230.3,376.5 L231.0,377.6 L231.7,377.9 L232.4,378.3 L233.1,377.1 L233.8,378.7 L234.5,378.6 L235.2,379.1 L235.9,377.8 L236.6,378.2 L237.3,378.4 L238.0,379.7 L238.7,378.9 L239.4,379.2 L240.1,379.9 L240.8,380.2 L241.5,378.0 L242.2,380.1 L242.9,379.7 L243.6,379.9 L244.3,379.2 L245.0,380.4 L245.7,379.7 L246.4,380.0 L247.1,379.1 L247.8,380.8 L248.5,380.2 L249.2,380.0 L249.9,379.1 L250.6,380.1 L251.3,380.2 L252.0,379.9 L252.7,380.7 L253.4,381.2 L254.1,380.5 L254.8,379.8 L255.5,380.2 L256.2,381.1 L256.9,380.5 L257.6,380.3 L258.3,381.2 L259.0,380.8 L259.7,381.1 L260.4,381.2 L261.1,381.2 L261.1,381.2 Z" fill="#8c8c8c" stroke="#111" stroke-width="0.75" stroke-linejoin="round"/>
<path d="M169.4,380.9 L170.2,381.0 L171.0,380.4 L171.8,380.7 L172.6,381.0 L173.4,380.4 L174.2,380.9 L175.0,380.7 L175.8,380.8 L176.6,380.3 L177.4,380.0 L178.2,380.2 L179.0,380.5 L179.8,379.8 L180.6,379.8 L181.4,380.2 L182.2,380.1 L183.0,379.5 L183.8,378.9 L184.6,378.7 L185.4,378.5 L186.2,378.4 L187.0,378.6 L187.8,377.9 L188.6,377.6 L189.4,376.8 L190.2,376.4 L191.0,376.1 L191.8,374.6 L192.6,374.7 L193.4,372.9 L194.2,371.6 L195.0,369.2 L195.8,368.8 L196.6,366.1 L197.4,363.5 L198.2,362.0 L199.0,358.3 L199.8,356.5 L200.6,353.4 L201.4,350.6 L202.2,347.1 L203.0,342.4 L203.8,346.0 L204.6,346.4 L205.4,349.6 L206.2,352.2 L207.0,354.9 L207.8,358.1 L208.6,360.1 L209.4,360.5 L210.2,362.7 L211.0,364.8 L211.8,365.5 L212.6,366.5 L213.4,369.3 L214.2,369.8 L215.0,370.8 L215.8,372.0 L216.6,372.4 L217.4,373.4 L218.2,374.2 L219.0,373.7 L219.8,375.0 L220.6,374.8 L221.4,376.0 L222.2,376.0 L223.0,376.1 L223.8,376.9 L224.6,376.7 L225.4,377.4 L226.2,377.4 L227.0,377.8 L227.8,377.6 L228.6,378.1 L229.4,378.5 L230.2,378.3 L231.0,378.5 L231.8,378.9 L232.6,378.5 L233.4,378.8 L234.2,379.5 L235.0,379.0 L235.8,379.3 L236.6,379.6 L237.4,378.8 L238.2,379.2 L239.0,378.9 L239.8,379.5 L240.6,379.6 L241.4,380.0 L242.2,379.5 L243.0,379.8 L243.8,380.1 L244.6,379.6 L245.4,379.9 L246.2,380.4 L247.0,379.6 L247.8,380.2 L248.6,379.8 L249.4,380.3 L250.2,380.7 L251.0,380.3 L251.8,380.5 L252.6,380.3 L253.4,380.6 L254.2,380.7 L255.0,380.7 L255.8,380.7 L256.6,380.6 L257.4,380.6 L258.2,381.0 L259.0,381.2 L259.8,381.2 L260.6,380.8 L261.4,381.1" fill="none" stroke="#fff" stroke-width="1.2"/>
<path d="M169.4,380.9 L170.2,381.0 L171.0,380.4 L171.8,380.7 L172.6,381.0 L173.4,380.4 L174.2,380.9 L175.0,380.7 L175.8,380.8 L176.6,380.3 L177.4,380.0 L178.2,380.2 L179.0,380.5 L179.8,379.8 L180.6,379.8 L181.4,380.2 L182.2,380.1 L183.0,379.5 L183.8,378.9 L184.6,378.7 L185.4,378.5 L186.2,378.4 L187.0,378.6 L187.8,377.9 L188.6,377.6 L189.4,376.8 L190.2,376.4 L191.0,376.1 L191.8,374.6 L192.6,374.7 L193.4,372.9 L194.2,371.6 L195.0,369.2 L195.8,368.8 L196.6,366.1 L197.4,363.5 L198.2,362.0 L199.0,358.3 L199.8,356.5 L200.6,353.4 L201.4,350.6 L202.2,347.1 L203.0,342.4 L203.8,346.0 L204.6,346.4 L205.4,349.6 L206.2,352.2 L207.0,354.9 L207.8,358.1 L208.6,360.1 L209.4,360.5 L210.2,362.7 L211.0,364.8 L211.8,365.5 L212.6,366.5 L213.4,369.3 L214.2,369.8 L215.0,370.8 L215.8,372.0 L216.6,372.4 L217.4,373.4 L218.2,374.2 L219.0,373.7 L219.8,375.0 L220.6,374.8 L221.4,376.0 L222.2,376.0 L223.0,376.1 L223.8,376.9 L224.6,376.7 L225.4,377.4 L226.2,377.4 L227.0,377.8 L227.8,377.6 L228.6,378.1 L229.4,378.5 L230.2,378.3 L231.0,378.5 L231.8,378.9 L232.6,378.5 L233.4,378.8 L234.2,379.5 L235.0,379.0 L235.8,379.3 L236.6,379.6 L237.4,378.8 L238.2,379.2 L239.0,378.9 L239.8,379.5 L240.6,379.6 L241.4,380.0 L242.2,379.5 L243.0,379.8 L243.8,380.1 L244.6,379.6 L245.4,379.9 L246.2,380.4 L247.0,379.6 L247.8,380.2 L248.6,379.8 L249.4,380.3 L250.2,380.7 L251.0,380.3 L251.8,380.5 L252.6,380.3 L253.4,380.6 L254.2,380.7 L255.0,380.7 L255.8,380.7 L256.6,380.6 L257.4,380.6 L258.2,381.0 L259.0,381.2 L259.8,381.2 L260.6,380.8 L261.4,381.1" fill="none" stroke="#000" stroke-width="1.0" stroke-dasharray="2.2,1.6"/>
<line x1="168.9" y1="381.2" x2="262" y2="381.2" stroke="#333" stroke-width="0.9"/>
<line x1="280" y1="317.5" x2="280" y2="381.6" stroke="#a8a8a8" stroke-width="0.9"/>
<line x1="278.5" y1="381.6" x2="280" y2="381.6" stroke="#777" stroke-width="0.7"/>
<line x1="278.5" y1="365.6" x2="280" y2="365.6" stroke="#777" stroke-width="0.7"/>
<line x1="278.5" y1="349.6" x2="280" y2="349.6" stroke="#777" stroke-width="0.7"/>
<line x1="278.5" y1="333.5" x2="280" y2="333.5" stroke="#777" stroke-width="0.7"/>
<line x1="278.5" y1="317.5" x2="280" y2="317.5" stroke="#777" stroke-width="0.7"/>
<line x1="280.0" y1="381.6" x2="280.0" y2="383.1" stroke="#555" stroke-width="0.7"/>
<text x="280.5" y="387.9" font-size="4.4" fill="#444" text-anchor="middle">10<tspan font-size="2.8" dy="-1.6">0</tspan></text>
<line x1="303.4" y1="381.6" x2="303.4" y2="383.1" stroke="#555" stroke-width="0.7"/>
<text x="303.9" y="387.9" font-size="4.4" fill="#444" text-anchor="middle">10<tspan font-size="2.8" dy="-1.6">1</tspan></text>
<line x1="326.8" y1="381.6" x2="326.8" y2="383.1" stroke="#555" stroke-width="0.7"/>
<text x="327.2" y="387.9" font-size="4.4" fill="#444" text-anchor="middle">10<tspan font-size="2.8" dy="-1.6">2</tspan></text>
<line x1="350.1" y1="381.6" x2="350.1" y2="383.1" stroke="#555" stroke-width="0.7"/>
<text x="350.6" y="387.9" font-size="4.4" fill="#444" text-anchor="middle">10<tspan font-size="2.8" dy="-1.6">3</tspan></text>
<line x1="373.5" y1="381.6" x2="373.5" y2="383.1" stroke="#555" stroke-width="0.7"/>
<text x="374.0" y="387.9" font-size="4.4" fill="#444" text-anchor="middle">10<tspan font-size="2.8" dy="-1.6">4</tspan></text>
<text x="324.4" y="392.9" font-size="4.3" fill="#555" text-anchor="middle">FL1-H</text>
<text transform="translate(275,349.6) rotate(-90)" font-size="4.4" fill="#555" text-anchor="middle">Events</text>
<text x="278" y="319.5" font-size="4.2" fill="#555" text-anchor="end">3</text>
<text x="278" y="383.1" font-size="3.5" fill="#777" text-anchor="end">0</text>
<path d="M280.5,381.6 L280.5,380.6 L281.2,381.6 L281.9,380.9 L282.6,381.6 L283.3,380.3 L284.0,381.6 L284.7,380.4 L285.4,380.7 L286.1,380.4 L286.8,380.1 L287.5,381.4 L288.2,381.2 L288.9,380.5 L289.6,381.2 L290.3,381.2 L291.0,381.2 L291.7,380.0 L292.4,379.9 L293.1,380.0 L293.8,381.1 L294.5,379.7 L295.2,380.4 L295.9,381.0 L296.6,380.5 L297.3,380.5 L298.0,381.1 L298.7,380.1 L299.4,380.5 L300.1,380.0 L300.8,379.2 L301.5,379.8 L302.2,380.2 L302.9,379.2 L303.6,378.1 L304.3,378.4 L305.0,376.3 L305.7,378.0 L306.4,376.8 L307.1,375.9 L307.8,372.8 L308.5,372.9 L309.2,372.1 L309.9,372.8 L310.6,371.4 L311.3,369.4 L312.0,371.7 L312.7,371.1 L313.4,370.9 L314.1,368.8 L314.8,366.8 L315.5,367.6 L316.2,368.0 L316.9,367.4 L317.6,368.4 L318.3,365.4 L319.0,368.2 L319.7,369.2 L320.4,369.3 L321.1,367.9 L321.8,370.5 L322.5,369.0 L323.2,371.8 L323.9,372.1 L324.6,374.0 L325.3,371.9 L326.0,372.8 L326.7,374.4 L327.4,376.0 L328.1,375.3 L328.8,376.2 L329.5,375.3 L330.2,375.4 L330.9,376.3 L331.6,377.9 L332.3,378.9 L333.0,377.0 L333.7,377.2 L334.4,379.5 L335.1,379.0 L335.8,379.3 L336.5,378.4 L337.2,380.7 L337.9,380.9 L338.6,379.5 L339.3,380.3 L340.0,380.7 L340.7,380.4 L341.4,380.8 L342.1,380.7 L342.8,381.4 L343.5,381.6 L344.2,381.6 L344.9,381.3 L345.6,380.8 L346.3,381.3 L347.0,381.3 L347.7,380.9 L348.4,380.7 L349.1,380.9 L349.8,381.4 L350.5,380.5 L351.2,380.6 L351.9,380.4 L352.6,380.4 L353.3,381.6 L354.0,380.8 L354.7,381.4 L355.4,381.3 L356.1,381.1 L356.8,381.6 L357.5,381.6 L358.2,380.4 L358.9,381.5 L359.6,380.5 L360.3,380.9 L361.0,381.5 L361.7,381.5 L362.4,381.0 L363.1,380.9 L363.8,381.5 L364.5,381.6 L365.2,381.6 L365.9,380.7 L366.6,380.9 L367.3,381.6 L368.0,380.7 L368.7,381.1 L369.4,381.5 L370.1,380.6 L370.8,381.6 L371.5,381.6 L372.2,381.5 L372.9,380.9 L372.9,381.6 Z" fill="#8c8c8c" stroke="#111" stroke-width="0.75" stroke-linejoin="round"/>
<path d="M280.5,381.4 L281.3,381.4 L282.1,380.9 L282.9,381.2 L283.7,381.1 L284.5,381.0 L285.3,381.1 L286.1,380.8 L286.9,380.5 L287.7,381.1 L288.5,380.6 L289.3,380.8 L290.1,380.4 L290.9,380.4 L291.7,380.9 L292.5,380.7 L293.3,380.3 L294.1,379.9 L294.9,379.9 L295.7,379.8 L296.5,380.4 L297.3,380.0 L298.1,379.4 L298.9,379.2 L299.7,379.0 L300.5,377.8 L301.3,377.7 L302.1,377.6 L302.9,377.1 L303.7,375.9 L304.5,374.8 L305.3,373.7 L306.1,373.4 L306.9,371.4 L307.7,370.4 L308.5,369.9 L309.3,368.8 L310.1,367.0 L310.9,366.3 L311.7,364.0 L312.5,364.6 L313.3,361.9 L314.1,362.1 L314.9,359.5 L315.7,359.1 L316.5,358.6 L317.3,356.4 L318.1,358.8 L318.9,358.8 L319.7,359.9 L320.5,359.6 L321.3,360.3 L322.1,362.7 L322.9,363.6 L323.7,364.5 L324.5,365.6 L325.3,367.8 L326.1,367.6 L326.9,369.3 L327.7,370.0 L328.5,370.3 L329.3,371.3 L330.1,373.4 L330.9,374.5 L331.7,374.1 L332.5,375.1 L333.3,375.2 L334.1,375.9 L334.9,376.0 L335.7,376.7 L336.5,377.1 L337.3,377.6 L338.1,378.3 L338.9,378.7 L339.7,379.3 L340.5,378.8 L341.3,379.4 L342.1,379.7 L342.9,380.2 L343.7,380.2 L344.5,380.1 L345.3,380.0 L346.1,380.4 L346.9,380.6 L347.7,380.2 L348.5,380.0 L349.3,380.4 L350.1,380.1 L350.9,380.9 L351.7,380.4 L352.5,380.6 L353.3,381.1 L354.1,381.1 L354.9,380.7 L355.7,380.6 L356.5,381.3 L357.3,380.9 L358.1,380.7 L358.9,381.2 L359.7,380.8 L360.5,381.3 L361.3,381.4 L362.1,380.9 L362.9,380.8 L363.7,381.0 L364.5,381.1 L365.3,381.0 L366.1,381.1 L366.9,381.1 L367.7,380.9 L368.5,381.2 L369.3,381.4 L370.1,381.5 L370.9,381.3 L371.7,381.1 L372.5,381.4" fill="none" stroke="#fff" stroke-width="1.2"/>
<path d="M280.5,381.4 L281.3,381.4 L282.1,380.9 L282.9,381.2 L283.7,381.1 L284.5,381.0 L285.3,381.1 L286.1,380.8 L286.9,380.5 L287.7,381.1 L288.5,380.6 L289.3,380.8 L290.1,380.4 L290.9,380.4 L291.7,380.9 L292.5,380.7 L293.3,380.3 L294.1,379.9 L294.9,379.9 L295.7,379.8 L296.5,380.4 L297.3,380.0 L298.1,379.4 L298.9,379.2 L299.7,379.0 L300.5,377.8 L301.3,377.7 L302.1,377.6 L302.9,377.1 L303.7,375.9 L304.5,374.8 L305.3,373.7 L306.1,373.4 L306.9,371.4 L307.7,370.4 L308.5,369.9 L309.3,368.8 L310.1,367.0 L310.9,366.3 L311.7,364.0 L312.5,364.6 L313.3,361.9 L314.1,362.1 L314.9,359.5 L315.7,359.1 L316.5,358.6 L317.3,356.4 L318.1,358.8 L318.9,358.8 L319.7,359.9 L320.5,359.6 L321.3,360.3 L322.1,362.7 L322.9,363.6 L323.7,364.5 L324.5,365.6 L325.3,367.8 L326.1,367.6 L326.9,369.3 L327.7,370.0 L328.5,370.3 L329.3,371.3 L330.1,373.4 L330.9,374.5 L331.7,374.1 L332.5,375.1 L333.3,375.2 L334.1,375.9 L334.9,376.0 L335.7,376.7 L336.5,377.1 L337.3,377.6 L338.1,378.3 L338.9,378.7 L339.7,379.3 L340.5,378.8 L341.3,379.4 L342.1,379.7 L342.9,380.2 L343.7,380.2 L344.5,380.1 L345.3,380.0 L346.1,380.4 L346.9,380.6 L347.7,380.2 L348.5,380.0 L349.3,380.4 L350.1,380.1 L350.9,380.9 L351.7,380.4 L352.5,380.6 L353.3,381.1 L354.1,381.1 L354.9,380.7 L355.7,380.6 L356.5,381.3 L357.3,380.9 L358.1,380.7 L358.9,381.2 L359.7,380.8 L360.5,381.3 L361.3,381.4 L362.1,380.9 L362.9,380.8 L363.7,381.0 L364.5,381.1 L365.3,381.0 L366.1,381.1 L366.9,381.1 L367.7,380.9 L368.5,381.2 L369.3,381.4 L370.1,381.5 L370.9,381.3 L371.7,381.1 L372.5,381.4" fill="none" stroke="#000" stroke-width="1.0" stroke-dasharray="2.2,1.6"/>
<line x1="280" y1="381.6" x2="373.5" y2="381.6" stroke="#333" stroke-width="0.9"/>
<line x1="391" y1="317.5" x2="391" y2="381.6" stroke="#a8a8a8" stroke-width="0.9"/>
<line x1="389.5" y1="381.6" x2="391" y2="381.6" stroke="#777" stroke-width="0.7"/>
<line x1="389.5" y1="365.6" x2="391" y2="365.6" stroke="#777" stroke-width="0.7"/>
<line x1="389.5" y1="349.6" x2="391" y2="349.6" stroke="#777" stroke-width="0.7"/>
<line x1="389.5" y1="333.5" x2="391" y2="333.5" stroke="#777" stroke-width="0.7"/>
<line x1="389.5" y1="317.5" x2="391" y2="317.5" stroke="#777" stroke-width="0.7"/>
<line x1="391.0" y1="381.6" x2="391.0" y2="383.1" stroke="#555" stroke-width="0.7"/>
<text x="391.5" y="387.9" font-size="4.4" fill="#444" text-anchor="middle">10<tspan font-size="2.8" dy="-1.6">0</tspan></text>
<line x1="414.3" y1="381.6" x2="414.3" y2="383.1" stroke="#555" stroke-width="0.7"/>
<text x="414.8" y="387.9" font-size="4.4" fill="#444" text-anchor="middle">10<tspan font-size="2.8" dy="-1.6">1</tspan></text>
<line x1="437.6" y1="381.6" x2="437.6" y2="383.1" stroke="#555" stroke-width="0.7"/>
<text x="438.1" y="387.9" font-size="4.4" fill="#444" text-anchor="middle">10<tspan font-size="2.8" dy="-1.6">2</tspan></text>
<line x1="460.8" y1="381.6" x2="460.8" y2="383.1" stroke="#555" stroke-width="0.7"/>
<text x="461.3" y="387.9" font-size="4.4" fill="#444" text-anchor="middle">10<tspan font-size="2.8" dy="-1.6">3</tspan></text>
<line x1="484.1" y1="381.6" x2="484.1" y2="383.1" stroke="#555" stroke-width="0.7"/>
<text x="484.6" y="387.9" font-size="4.4" fill="#444" text-anchor="middle">10<tspan font-size="2.8" dy="-1.6">4</tspan></text>
<text x="435.2" y="392.9" font-size="4.3" fill="#555" text-anchor="middle">FL1-H</text>
<text transform="translate(386,349.6) rotate(-90)" font-size="4.4" fill="#555" text-anchor="middle">Events</text>
<text x="389" y="319.5" font-size="4.2" fill="#555" text-anchor="end">3</text>
<text x="389" y="383.1" font-size="3.5" fill="#777" text-anchor="end">0</text>
<path d="M391.5,381.6 L391.5,381.3 L392.2,380.8 L392.9,380.5 L393.6,381.5 L394.3,380.7 L395.0,380.7 L395.7,380.8 L396.4,381.6 L397.1,381.6 L397.8,381.1 L398.5,380.4 L399.2,381.3 L399.9,380.8 L400.6,381.1 L401.3,380.0 L402.0,379.8 L402.7,380.8 L403.4,379.5 L404.1,381.3 L404.8,379.8 L405.5,379.6 L406.2,381.0 L406.9,379.9 L407.6,380.1 L408.3,379.2 L409.0,380.7 L409.7,380.0 L410.4,379.2 L411.1,379.6 L411.8,379.8 L412.5,379.8 L413.2,377.1 L413.9,377.7 L414.6,375.6 L415.3,377.4 L416.0,374.9 L416.7,374.3 L417.4,373.0 L418.1,374.7 L418.8,372.3 L419.5,372.2 L420.2,368.5 L420.9,368.7 L421.6,364.6 L422.3,365.1 L423.0,361.5 L423.7,359.2 L424.4,360.0 L425.1,356.4 L425.8,352.3 L426.5,353.4 L427.2,353.5 L427.9,353.3 L428.6,352.1 L429.3,356.8 L430.0,356.5 L430.7,358.8 L431.4,361.0 L432.1,364.7 L432.8,363.4 L433.5,363.3 L434.2,366.7 L434.9,367.5 L435.6,365.6 L436.3,367.1 L437.0,368.6 L437.7,369.8 L438.4,366.4 L439.1,367.0 L439.8,365.4 L440.5,365.5 L441.2,363.2 L441.9,362.1 L442.6,363.2 L443.3,363.5 L444.0,358.5 L444.7,357.9 L445.4,361.0 L446.1,357.7 L446.8,356.9 L447.5,358.0 L448.2,356.2 L448.9,354.8 L449.6,357.0 L450.3,358.4 L451.0,359.8 L451.7,360.0 L452.4,361.1 L453.1,362.2 L453.8,362.7 L454.5,360.8 L455.2,363.2 L455.9,363.2 L456.6,364.0 L457.3,365.6 L458.0,369.7 L458.7,367.6 L459.4,371.8 L460.1,370.6 L460.8,371.5 L461.5,373.2 L462.2,374.9 L462.9,376.8 L463.6,377.6 L464.3,376.8 L465.0,378.3 L465.7,378.1 L466.4,379.2 L467.1,379.8 L467.8,379.7 L468.5,379.0 L469.2,379.8 L469.9,380.2 L470.6,380.2 L471.3,380.3 L472.0,380.6 L472.7,381.0 L473.4,380.2 L474.1,380.6 L474.8,381.5 L475.5,381.4 L476.2,381.6 L476.9,381.3 L477.6,381.6 L478.3,380.7 L479.0,381.1 L479.7,381.3 L480.4,380.6 L481.1,381.5 L481.8,381.1 L482.5,380.6 L483.2,381.2 L483.2,381.6 Z" fill="#8c8c8c" stroke="#111" stroke-width="0.75" stroke-linejoin="round"/>
<path d="M391.5,381.6 L392.3,381.1 L393.1,380.9 L393.9,381.2 L394.7,380.7 L395.5,381.1 L396.3,380.9 L397.1,380.6 L397.9,381.1 L398.7,381.2 L399.5,381.0 L400.3,381.1 L401.1,380.7 L401.9,380.9 L402.7,380.9 L403.5,380.6 L404.3,380.5 L405.1,379.9 L405.9,380.7 L406.7,380.0 L407.5,379.7 L408.3,379.8 L409.1,380.2 L409.9,379.5 L410.7,378.5 L411.5,378.1 L412.3,376.1 L413.1,375.5 L413.9,374.7 L414.7,374.1 L415.5,371.7 L416.3,370.3 L417.1,368.5 L417.9,365.6 L418.7,363.0 L419.5,359.0 L420.3,357.1 L421.1,351.4 L421.9,348.8 L422.7,345.0 L423.5,338.7 L424.3,333.7 L425.1,331.3 L425.9,327.7 L426.7,327.8 L427.5,327.6 L428.3,328.9 L429.1,327.5 L429.9,329.6 L430.7,335.3 L431.5,339.9 L432.3,344.0 L433.1,349.2 L433.9,354.3 L434.7,358.5 L435.5,360.9 L436.3,363.3 L437.1,367.0 L437.9,366.5 L438.7,368.8 L439.5,368.9 L440.3,370.3 L441.1,371.5 L441.9,373.3 L442.7,373.5 L443.5,374.1 L444.3,375.0 L445.1,375.4 L445.9,376.3 L446.7,376.6 L447.5,376.9 L448.3,377.3 L449.1,377.4 L449.9,377.7 L450.7,378.6 L451.5,378.5 L452.3,378.7 L453.1,379.7 L453.9,379.4 L454.7,379.9 L455.5,380.4 L456.3,380.3 L457.1,379.9 L457.9,380.1 L458.7,380.3 L459.5,380.0 L460.3,380.3 L461.1,380.9 L461.9,380.4 L462.7,380.6 L463.5,380.5 L464.3,380.7 L465.1,380.6 L465.9,381.3 L466.7,380.8 L467.5,381.2 L468.3,381.3 L469.1,380.8 L469.9,380.8 L470.7,380.7 L471.5,381.2 L472.3,380.7 L473.1,381.0 L473.9,381.0 L474.7,380.9 L475.5,380.9 L476.3,381.5 L477.1,381.1 L477.9,381.1 L478.7,381.1 L479.5,381.3 L480.3,380.9 L481.1,381.5 L481.9,381.0 L482.7,381.5 L483.5,381.6" fill="none" stroke="#fff" stroke-width="1.2"/>
<path d="M391.5,381.6 L392.3,381.1 L393.1,380.9 L393.9,381.2 L394.7,380.7 L395.5,381.1 L396.3,380.9 L397.1,380.6 L397.9,381.1 L398.7,381.2 L399.5,381.0 L400.3,381.1 L401.1,380.7 L401.9,380.9 L402.7,380.9 L403.5,380.6 L404.3,380.5 L405.1,379.9 L405.9,380.7 L406.7,380.0 L407.5,379.7 L408.3,379.8 L409.1,380.2 L409.9,379.5 L410.7,378.5 L411.5,378.1 L412.3,376.1 L413.1,375.5 L413.9,374.7 L414.7,374.1 L415.5,371.7 L416.3,370.3 L417.1,368.5 L417.9,365.6 L418.7,363.0 L419.5,359.0 L420.3,357.1 L421.1,351.4 L421.9,348.8 L422.7,345.0 L423.5,338.7 L424.3,333.7 L425.1,331.3 L425.9,327.7 L426.7,327.8 L427.5,327.6 L428.3,328.9 L429.1,327.5 L429.9,329.6 L430.7,335.3 L431.5,339.9 L432.3,344.0 L433.1,349.2 L433.9,354.3 L434.7,358.5 L435.5,360.9 L436.3,363.3 L437.1,367.0 L437.9,366.5 L438.7,368.8 L439.5,368.9 L440.3,370.3 L441.1,371.5 L441.9,373.3 L442.7,373.5 L443.5,374.1 L444.3,375.0 L445.1,375.4 L445.9,376.3 L446.7,376.6 L447.5,376.9 L448.3,377.3 L449.1,377.4 L449.9,377.7 L450.7,378.6 L451.5,378.5 L452.3,378.7 L453.1,379.7 L453.9,379.4 L454.7,379.9 L455.5,380.4 L456.3,380.3 L457.1,379.9 L457.9,380.1 L458.7,380.3 L459.5,380.0 L460.3,380.3 L461.1,380.9 L461.9,380.4 L462.7,380.6 L463.5,380.5 L464.3,380.7 L465.1,380.6 L465.9,381.3 L466.7,380.8 L467.5,381.2 L468.3,381.3 L469.1,380.8 L469.9,380.8 L470.7,380.7 L471.5,381.2 L472.3,380.7 L473.1,381.0 L473.9,381.0 L474.7,380.9 L475.5,380.9 L476.3,381.5 L477.1,381.1 L477.9,381.1 L478.7,381.1 L479.5,381.3 L480.3,380.9 L481.1,381.5 L481.9,381.0 L482.7,381.5 L483.5,381.6" fill="none" stroke="#000" stroke-width="1.0" stroke-dasharray="2.2,1.6"/>
<line x1="391" y1="381.6" x2="484.1" y2="381.6" stroke="#333" stroke-width="0.9"/>
<path d="M85.20,228.70 L88.40,220.90 L91.60,228.70 Z" fill="none" stroke="#111" stroke-width="1.55" stroke-linejoin="round"/>
<line x1="84.30" y1="228.85" x2="92.50" y2="228.85" stroke="#111" stroke-width="1.1"/>
<text x="94.3" y="229.4" font-size="11.45" stroke="#000" stroke-width="0.3" textLength="9.2" lengthAdjust="spacingAndGlyphs">G</text>
<text x="104.5" y="233.2" font-size="8.24" stroke="#000" stroke-width="0.15" textLength="19.8" lengthAdjust="spacingAndGlyphs">mean</text>
<text x="124.8" y="229.4" font-size="11.45" stroke="#000" stroke-width="0.3" textLength="25.7" lengthAdjust="spacingAndGlyphs">= 32</text>
<line x1="100.2" y1="235.2" x2="146.3" y2="235.2" stroke="#888" stroke-width="0.9"/>
<line x1="100.2" y1="234.0" x2="100.2" y2="236.39999999999998" stroke="#777" stroke-width="0.7"/>
<line x1="146.3" y1="234.0" x2="146.3" y2="236.39999999999998" stroke="#777" stroke-width="0.7"/>
<text x="140.3" y="233.7" font-size="3.5" fill="#666" text-anchor="middle">M1</text>
<text x="112.3" y="251.8" font-size="12.43" stroke="#000" stroke-width="0.3" textLength="27.1" lengthAdjust="spacingAndGlyphs">21%</text>
<path d="M202.10,229.70 L205.30,222.10 L208.50,229.70 Z" fill="none" stroke="#111" stroke-width="1.55" stroke-linejoin="round"/>
<line x1="201.20" y1="229.85" x2="209.40" y2="229.85" stroke="#111" stroke-width="1.1"/>
<text x="210.0" y="230.4" font-size="11.16" stroke="#000" stroke-width="0.3" textLength="9.2" lengthAdjust="spacingAndGlyphs">G</text>
<text x="220.2" y="234.2" font-size="8.03" stroke="#000" stroke-width="0.15" textLength="20.0" lengthAdjust="spacingAndGlyphs">mean</text>
<text x="240.7" y="230.4" font-size="11.16" stroke="#000" stroke-width="0.3" textLength="26.3" lengthAdjust="spacingAndGlyphs">= 30</text>
<line x1="216.5" y1="234.5" x2="258.1" y2="234.5" stroke="#888" stroke-width="0.9"/>
<line x1="216.5" y1="233.3" x2="216.5" y2="235.7" stroke="#777" stroke-width="0.7"/>
<line x1="258.1" y1="233.3" x2="258.1" y2="235.7" stroke="#777" stroke-width="0.7"/>
<text x="252.10000000000002" y="233.0" font-size="3.5" fill="#666" text-anchor="middle">M1</text>
<text x="229.4" y="252.7" font-size="12.14" stroke="#000" stroke-width="0.3" textLength="25.1" lengthAdjust="spacingAndGlyphs">26%</text>
<path d="M307.10,229.20 L310.30,221.90 L313.50,229.20 Z" fill="none" stroke="#111" stroke-width="1.55" stroke-linejoin="round"/>
<line x1="306.20" y1="229.35" x2="314.40" y2="229.35" stroke="#111" stroke-width="1.1"/>
<text x="316.1" y="229.9" font-size="10.72" stroke="#000" stroke-width="0.3" textLength="9.2" lengthAdjust="spacingAndGlyphs">G</text>
<text x="326.3" y="233.7" font-size="7.72" stroke="#000" stroke-width="0.15" textLength="20.2" lengthAdjust="spacingAndGlyphs">mean</text>
<text x="347.0" y="229.9" font-size="10.72" stroke="#000" stroke-width="0.3" textLength="25.0" lengthAdjust="spacingAndGlyphs">= 84</text>
<line x1="327.4" y1="234.5" x2="370" y2="234.5" stroke="#888" stroke-width="0.9"/>
<line x1="327.4" y1="233.3" x2="327.4" y2="235.7" stroke="#777" stroke-width="0.7"/>
<line x1="370" y1="233.3" x2="370" y2="235.7" stroke="#777" stroke-width="0.7"/>
<text x="364" y="233.0" font-size="3.5" fill="#666" text-anchor="middle">M1</text>
<text x="339" y="252.4" font-size="11.71" stroke="#000" stroke-width="0.3" textLength="25.2" lengthAdjust="spacingAndGlyphs">41%</text>
<path d="M418.70,229.00 L421.90,221.30 L425.10,229.00 Z" fill="none" stroke="#111" stroke-width="1.55" stroke-linejoin="round"/>
<text x="428.0" y="229.7" font-size="11.30" stroke="#000" stroke-width="0.3" textLength="9.2" lengthAdjust="spacingAndGlyphs">G</text>
<text x="438.2" y="233.5" font-size="8.14" stroke="#000" stroke-width="0.15" textLength="19.4" lengthAdjust="spacingAndGlyphs">mean</text>
<text x="458.1" y="229.7" font-size="11.30" stroke="#000" stroke-width="0.3" textLength="32.9" lengthAdjust="spacingAndGlyphs">= 155</text>
<text x="455.7" y="251.3" font-size="12.29" stroke="#000" stroke-width="0.3" textLength="25.9" lengthAdjust="spacingAndGlyphs">59%</text>
<path d="M80.20,325.10 L83.40,317.60 L86.60,325.10 Z" fill="none" stroke="#111" stroke-width="1.55" stroke-linejoin="round"/>
<line x1="79.30" y1="325.25" x2="87.50" y2="325.25" stroke="#111" stroke-width="1.1"/>
<text x="90.0" y="325.8" font-size="11.01" stroke="#000" stroke-width="0.3" textLength="9.2" lengthAdjust="spacingAndGlyphs">G</text>
<text x="100.2" y="329.6" font-size="7.93" stroke="#000" stroke-width="0.15" textLength="19.8" lengthAdjust="spacingAndGlyphs">mean</text>
<text x="120.5" y="325.8" font-size="11.01" stroke="#000" stroke-width="0.3" textLength="28.7" lengthAdjust="spacingAndGlyphs">= 0.2</text>
<line x1="100.4" y1="335.1" x2="146.1" y2="335.1" stroke="#a5a5a5" stroke-width="0.9"/>
<line x1="100.4" y1="333.90000000000003" x2="100.4" y2="336.3" stroke="#777" stroke-width="0.7"/>
<line x1="146.1" y1="333.90000000000003" x2="146.1" y2="336.3" stroke="#777" stroke-width="0.7"/>
<text x="140.1" y="333.6" font-size="3.5" fill="#666" text-anchor="middle">M1</text>
<text x="115.6" y="350.8" font-size="10.71" stroke="#000" stroke-width="0.3" textLength="19.4" lengthAdjust="spacingAndGlyphs">4%</text>
<path d="M205.50,326.20 L208.70,318.30 L211.90,326.20 Z" fill="none" stroke="#111" stroke-width="1.55" stroke-linejoin="round"/>
<line x1="204.60" y1="326.35" x2="212.80" y2="326.35" stroke="#111" stroke-width="1.1"/>
<text x="215.0" y="326.9" font-size="11.59" stroke="#000" stroke-width="0.3" textLength="9.2" lengthAdjust="spacingAndGlyphs">G</text>
<text x="225.2" y="330.7" font-size="8.35" stroke="#000" stroke-width="0.15" textLength="20.3" lengthAdjust="spacingAndGlyphs">mean</text>
<text x="246.0" y="326.9" font-size="11.59" stroke="#000" stroke-width="0.3" textLength="18.2" lengthAdjust="spacingAndGlyphs">= 3</text>
<line x1="219.2" y1="335.8" x2="262.3" y2="335.8" stroke="#a5a5a5" stroke-width="0.9"/>
<line x1="219.2" y1="334.6" x2="219.2" y2="337.0" stroke="#777" stroke-width="0.7"/>
<line x1="262.3" y1="334.6" x2="262.3" y2="337.0" stroke="#777" stroke-width="0.7"/>
<text x="256.3" y="334.3" font-size="3.5" fill="#666" text-anchor="middle">M1</text>
<text x="234.4" y="351.7" font-size="11.71" stroke="#000" stroke-width="0.3" textLength="25.1" lengthAdjust="spacingAndGlyphs">13%</text>
<path d="M310.50,326.20 L313.70,318.30 L316.90,326.20 Z" fill="none" stroke="#111" stroke-width="1.55" stroke-linejoin="round"/>
<line x1="309.60" y1="326.35" x2="317.80" y2="326.35" stroke="#111" stroke-width="1.1"/>
<text x="319.3" y="326.9" font-size="11.59" stroke="#000" stroke-width="0.3" textLength="9.2" lengthAdjust="spacingAndGlyphs">G</text>
<text x="329.5" y="330.7" font-size="8.35" stroke="#000" stroke-width="0.15" textLength="19.7" lengthAdjust="spacingAndGlyphs">mean</text>
<text x="349.7" y="326.9" font-size="11.59" stroke="#000" stroke-width="0.3" textLength="26.5" lengthAdjust="spacingAndGlyphs">= 27</text>
<line x1="330.4" y1="335.8" x2="371.9" y2="335.8" stroke="#a5a5a5" stroke-width="0.9"/>
<line x1="330.4" y1="334.6" x2="330.4" y2="337.0" stroke="#777" stroke-width="0.7"/>
<line x1="371.9" y1="334.6" x2="371.9" y2="337.0" stroke="#777" stroke-width="0.7"/>
<text x="365.9" y="334.3" font-size="3.5" fill="#666" text-anchor="middle">M1</text>
<text x="343.3" y="352" font-size="12.14" stroke="#000" stroke-width="0.3" textLength="27.4" lengthAdjust="spacingAndGlyphs">22%</text>
<path d="M425.10,326.20 L428.30,318.30 L431.50,326.20 Z" fill="none" stroke="#111" stroke-width="1.55" stroke-linejoin="round"/>
<line x1="424.20" y1="326.35" x2="432.40" y2="326.35" stroke="#111" stroke-width="1.1"/>
<text x="433.9" y="326.9" font-size="11.59" stroke="#000" stroke-width="0.3" textLength="9.2" lengthAdjust="spacingAndGlyphs">G</text>
<text x="444.1" y="330.7" font-size="8.35" stroke="#000" stroke-width="0.15" textLength="19.7" lengthAdjust="spacingAndGlyphs">mean</text>
<text x="464.3" y="326.9" font-size="11.59" stroke="#000" stroke-width="0.3" textLength="26.5" lengthAdjust="spacingAndGlyphs">= 88</text>
<line x1="440.4" y1="335.8" x2="485.8" y2="335.8" stroke="#a5a5a5" stroke-width="0.9"/>
<line x1="440.4" y1="334.6" x2="440.4" y2="337.0" stroke="#777" stroke-width="0.7"/>
<line x1="485.8" y1="334.6" x2="485.8" y2="337.0" stroke="#777" stroke-width="0.7"/>
<text x="479.8" y="334.3" font-size="3.5" fill="#666" text-anchor="middle">M1</text>
<text x="452.5" y="352" font-size="12.14" stroke="#000" stroke-width="0.3" textLength="27.4" lengthAdjust="spacingAndGlyphs">49%</text>
<text x="96.2" y="201.6" style="font-family:Liberation Serif,serif" font-size="18.8" font-weight="bold" textLength="9.4" lengthAdjust="spacingAndGlyphs">0</text>
<text x="203.3" y="201.2" style="font-family:Liberation Serif,serif" font-size="18" font-weight="bold" textLength="9.0" lengthAdjust="spacingAndGlyphs">4</text>
<text x="218.2" y="201.2" style="font-family:Liberation Serif,serif" font-size="18" font-weight="bold" textLength="9.3" lengthAdjust="spacingAndGlyphs">h</text>
<text x="313.1" y="201.6" font-size="17.8" font-weight="bold" textLength="9.6" lengthAdjust="spacingAndGlyphs">8</text>
<text x="328.8" y="201.6" font-size="17.8" font-weight="bold" textLength="8.6" lengthAdjust="spacingAndGlyphs">h</text>
<text x="419.4" y="200.3" font-size="17.2" font-weight="bold" textLength="17.9" lengthAdjust="spacingAndGlyphs">20</text>
<text x="442.5" y="200.3" font-size="17.2" font-weight="bold" textLength="9.2" lengthAdjust="spacingAndGlyphs">h</text>
<text x="8.3" y="259.8" font-size="18" font-weight="bold" textLength="26.6" lengthAdjust="spacingAndGlyphs">WT</text>
<text x="1.6" y="354.2" font-size="16.2" font-weight="bold" textLength="26.3" lengthAdjust="spacingAndGlyphs">p53</text>
<text x="28" y="349.5" font-size="9" font-weight="bold" textLength="10.3" lengthAdjust="spacingAndGlyphs">-/-</text>
<line x1="45" y1="399.4" x2="489" y2="399.4" stroke="#000" stroke-width="2.5" />
<path d="M488 395 L499 399.5 L488 404 Z" fill="#000"/>
<text x="274.5" y="421.3" font-size="16" font-weight="bold" text-anchor="middle" fill="#000" >CD200</text>
</svg></body></html>
